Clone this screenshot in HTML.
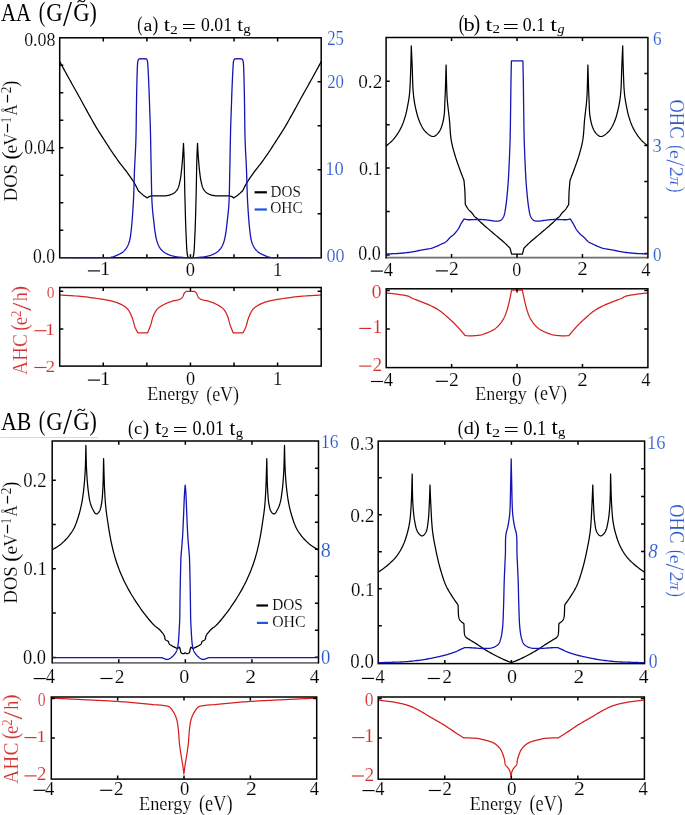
<!DOCTYPE html>
<html><head><meta charset="utf-8"><style>html,body{margin:0;padding:0;background:#fff;width:685px;height:815px;overflow:hidden}svg{display:block}svg{will-change:transform}</style></head><body>
<svg width="685" height="815" viewBox="0 0 685 815"><defs><clipPath id="clip_a_dos"><rect x="59.70" y="37.00" width="261.50" height="221.60"/></clipPath><clipPath id="clip_a_ahc"><rect x="59.70" y="286.70" width="261.50" height="80.20"/></clipPath><clipPath id="clip_b_dos"><rect x="386.10" y="36.70" width="261.80" height="221.80"/></clipPath><clipPath id="clip_b_ahc"><rect x="386.20" y="288.00" width="261.70" height="80.40"/></clipPath><clipPath id="clip_c_dos"><rect x="52.20" y="440.30" width="266.30" height="223.30"/></clipPath><clipPath id="clip_c_ahc"><rect x="51.30" y="696.20" width="265.40" height="83.70"/></clipPath><clipPath id="clip_d_dos"><rect x="378.20" y="440.30" width="266.40" height="224.10"/></clipPath><clipPath id="clip_d_ahc"><rect x="378.20" y="696.20" width="266.20" height="83.80"/></clipPath></defs><rect width="685" height="815" fill="#fff"/><path d="M59.80 61.50 L60.19 62.25 L60.56 62.97 L60.93 63.68 L61.31 64.39 L61.69 65.13 L62.09 65.90 L62.53 66.72 L63.00 67.60 L63.81 69.10 L64.72 70.76 L65.69 72.53 L66.72 74.38 L67.77 76.28 L68.83 78.19 L69.88 80.07 L70.90 81.90 L71.89 83.68 L72.88 85.44 L73.86 87.20 L74.85 88.96 L75.85 90.73 L76.85 92.52 L77.87 94.34 L78.90 96.20 L80.07 98.31 L81.26 100.49 L82.47 102.71 L83.69 104.95 L84.91 107.19 L86.13 109.41 L87.32 111.59 L88.50 113.70 L89.55 115.58 L90.58 117.43 L91.60 119.25 L92.61 121.05 L93.62 122.83 L94.63 124.60 L95.66 126.36 L96.70 128.10 L97.72 129.77 L98.76 131.43 L99.80 133.08 L100.85 134.71 L101.90 136.33 L102.95 137.93 L103.98 139.52 L105.00 141.10 L105.94 142.57 L106.87 144.02 L107.79 145.46 L108.71 146.89 L109.63 148.31 L110.55 149.72 L111.47 151.12 L112.40 152.50 L113.30 153.82 L114.21 155.13 L115.11 156.43 L116.02 157.72 L116.94 159.00 L117.85 160.28 L118.77 161.54 L119.70 162.80 L120.62 164.02 L121.55 165.23 L122.49 166.43 L123.43 167.62 L124.36 168.81 L125.29 170.00 L126.21 171.19 L127.10 172.40 L127.98 173.62 L128.87 174.87 L129.77 176.14 L130.65 177.41 L131.50 178.65 L132.30 179.84 L133.04 180.97 L133.70 182.00 L134.09 182.62 L134.44 183.21 L134.76 183.76 L135.06 184.29 L135.35 184.81 L135.64 185.33 L135.91 185.86 L136.20 186.40 L136.48 186.95 L136.75 187.49 L137.01 188.04 L137.27 188.59 L137.53 189.15 L137.78 189.70 L138.04 190.25 L138.30 190.80 L138.86 191.30 L139.42 191.82 L139.98 192.33 L140.54 192.84 L141.10 193.35 L141.66 193.85 L142.23 194.33 L142.80 194.80 L143.35 195.23 L143.91 195.64 L144.47 196.05 L145.04 196.44 L145.60 196.83 L146.17 197.21 L146.74 197.60 L147.30 198.00 L147.60 197.78 L147.90 197.55 L148.18 197.31 L148.47 197.08 L148.77 196.85 L149.09 196.64 L149.43 196.46 L149.80 196.30 L150.33 196.14 L150.90 196.03 L151.51 195.95 L152.15 195.90 L152.82 195.87 L153.52 195.85 L154.25 195.83 L155.00 195.80 L156.17 195.77 L157.47 195.78 L158.86 195.81 L160.30 195.85 L161.73 195.88 L163.10 195.90 L164.38 195.87 L165.50 195.80 L166.16 195.73 L166.77 195.65 L167.34 195.57 L167.88 195.47 L168.41 195.36 L168.93 195.23 L169.46 195.08 L170.00 194.90 L170.59 194.69 L171.20 194.46 L171.80 194.21 L172.40 193.94 L172.99 193.64 L173.56 193.32 L174.10 192.97 L174.60 192.60 L175.06 192.21 L175.50 191.80 L175.91 191.37 L176.31 190.92 L176.68 190.43 L177.04 189.92 L177.38 189.38 L177.70 188.80 L178.08 188.00 L178.43 187.13 L178.74 186.21 L179.03 185.24 L179.29 184.23 L179.53 183.20 L179.77 182.15 L180.00 181.10 L180.25 179.85 L180.47 178.56 L180.68 177.23 L180.86 175.87 L181.03 174.49 L181.19 173.10 L181.34 171.70 L181.50 170.30 L181.66 168.81 L181.82 167.31 L181.96 165.80 L182.10 164.27 L182.23 162.73 L182.36 161.17 L182.48 159.59 L182.60 158.00 L182.73 156.24 L182.85 154.44 L182.96 152.62 L183.07 150.78 L183.18 148.93 L183.28 147.08 L183.39 145.23 L183.50 143.40 L183.58 145.18 L183.65 146.89 L183.73 148.57 L183.81 150.27 L183.88 152.02 L183.96 153.86 L184.03 155.84 L184.10 158.00 L184.21 161.93 L184.31 166.32 L184.40 171.07 L184.49 176.06 L184.58 181.20 L184.68 186.37 L184.78 191.48 L184.90 196.40 L185.03 201.29 L185.16 206.29 L185.29 211.35 L185.43 216.38 L185.58 221.31 L185.74 226.07 L185.91 230.60 L186.10 234.80 L186.23 237.74 L186.36 240.69 L186.48 243.58 L186.61 246.35 L186.76 248.93 L186.93 251.24 L187.15 253.22 L187.40 254.80 L187.50 255.30 L187.59 255.76 L187.68 256.18 L187.78 256.56 L187.89 256.89 L188.03 257.18 L188.20 257.41 L188.40 257.60 L188.61 257.70 L188.84 257.75 L189.10 257.76 L189.38 257.73 L189.66 257.69 L189.95 257.65 L190.23 257.61 L190.50 257.60 L190.77 257.61 L191.05 257.65 L191.34 257.69 L191.62 257.73 L191.90 257.76 L192.16 257.75 L192.39 257.70 L192.60 257.60 L192.80 257.41 L192.97 257.18 L193.11 256.89 L193.22 256.56 L193.32 256.18 L193.41 255.76 L193.50 255.30 L193.60 254.80 L193.85 253.22 L194.07 251.24 L194.24 248.93 L194.39 246.35 L194.52 243.58 L194.64 240.69 L194.77 237.74 L194.90 234.80 L195.09 230.60 L195.26 226.07 L195.42 221.31 L195.57 216.38 L195.71 211.35 L195.84 206.29 L195.97 201.29 L196.10 196.40 L196.22 191.48 L196.32 186.37 L196.42 181.20 L196.51 176.06 L196.60 171.07 L196.69 166.32 L196.79 161.93 L196.90 158.00 L196.97 155.84 L197.04 153.86 L197.12 152.02 L197.19 150.27 L197.27 148.57 L197.35 146.89 L197.42 145.18 L197.50 143.40 L197.61 145.23 L197.72 147.08 L197.82 148.93 L197.93 150.78 L198.04 152.62 L198.15 154.44 L198.27 156.24 L198.40 158.00 L198.52 159.59 L198.64 161.17 L198.77 162.73 L198.90 164.27 L199.04 165.80 L199.18 167.31 L199.34 168.81 L199.50 170.30 L199.66 171.70 L199.81 173.10 L199.97 174.49 L200.14 175.87 L200.32 177.23 L200.53 178.56 L200.75 179.85 L201.00 181.10 L201.23 182.15 L201.47 183.20 L201.71 184.23 L201.97 185.24 L202.26 186.21 L202.57 187.13 L202.92 188.00 L203.30 188.80 L203.62 189.38 L203.96 189.92 L204.32 190.43 L204.69 190.92 L205.09 191.37 L205.50 191.80 L205.94 192.21 L206.40 192.60 L206.90 192.97 L207.44 193.32 L208.01 193.64 L208.60 193.94 L209.20 194.21 L209.80 194.46 L210.41 194.69 L211.00 194.90 L211.54 195.08 L212.07 195.23 L212.59 195.36 L213.12 195.47 L213.66 195.57 L214.23 195.65 L214.84 195.73 L215.50 195.80 L216.62 195.87 L217.90 195.90 L219.27 195.88 L220.70 195.85 L222.14 195.81 L223.53 195.78 L224.83 195.77 L226.00 195.80 L226.75 195.83 L227.48 195.85 L228.18 195.87 L228.85 195.90 L229.49 195.95 L230.10 196.03 L230.67 196.14 L231.20 196.30 L231.57 196.46 L231.91 196.64 L232.23 196.85 L232.53 197.08 L232.82 197.31 L233.10 197.55 L233.40 197.78 L233.70 198.00 L234.26 197.60 L234.83 197.21 L235.40 196.83 L235.96 196.44 L236.53 196.05 L237.09 195.64 L237.65 195.23 L238.20 194.80 L238.77 194.33 L239.34 193.85 L239.90 193.35 L240.46 192.84 L241.02 192.33 L241.58 191.82 L242.14 191.30 L242.70 190.80 L242.96 190.25 L243.22 189.70 L243.47 189.15 L243.73 188.59 L243.99 188.04 L244.25 187.49 L244.52 186.95 L244.80 186.40 L245.09 185.86 L245.36 185.33 L245.65 184.81 L245.94 184.29 L246.24 183.76 L246.56 183.21 L246.91 182.62 L247.30 182.00 L247.96 180.97 L248.70 179.84 L249.50 178.65 L250.35 177.41 L251.23 176.14 L252.13 174.87 L253.02 173.62 L253.90 172.40 L254.79 171.19 L255.71 170.00 L256.64 168.81 L257.57 167.62 L258.51 166.43 L259.45 165.23 L260.38 164.02 L261.30 162.80 L262.23 161.54 L263.15 160.28 L264.06 159.00 L264.98 157.72 L265.89 156.43 L266.79 155.13 L267.70 153.82 L268.60 152.50 L269.53 151.12 L270.45 149.72 L271.37 148.31 L272.29 146.89 L273.21 145.46 L274.13 144.02 L275.06 142.57 L276.00 141.10 L277.02 139.52 L278.05 137.93 L279.10 136.33 L280.15 134.71 L281.20 133.08 L282.24 131.43 L283.28 129.77 L284.30 128.10 L285.34 126.36 L286.37 124.60 L287.38 122.83 L288.39 121.05 L289.40 119.25 L290.42 117.43 L291.45 115.58 L292.50 113.70 L293.68 111.59 L294.87 109.41 L296.09 107.19 L297.31 104.95 L298.53 102.71 L299.74 100.49 L300.93 98.31 L302.10 96.20 L303.13 94.34 L304.15 92.52 L305.15 90.73 L306.15 88.96 L307.14 87.20 L308.12 85.44 L309.11 83.68 L310.10 81.90 L311.12 80.07 L312.17 78.19 L313.23 76.28 L314.28 74.38 L315.31 72.53 L316.28 70.76 L317.19 69.10 L318.00 67.60 L318.47 66.72 L318.91 65.90 L319.31 65.13 L319.69 64.39 L320.07 63.68 L320.44 62.97 L320.81 62.25 L321.20 61.50" fill="none" stroke="#000000" stroke-width="1.25" stroke-linejoin="round" clip-path="url(#clip_a_dos)"/>
<path d="M59.70 295.00 L62.02 295.14 L64.34 295.28 L66.66 295.40 L68.98 295.53 L71.31 295.67 L73.63 295.83 L75.96 296.00 L78.30 296.20 L80.70 296.43 L83.13 296.68 L85.58 296.94 L88.02 297.22 L90.45 297.52 L92.84 297.83 L95.20 298.16 L97.50 298.50 L99.55 298.81 L101.59 299.12 L103.62 299.44 L105.61 299.78 L107.56 300.13 L109.45 300.52 L111.27 300.94 L113.00 301.40 L114.35 301.80 L115.66 302.21 L116.93 302.64 L118.15 303.10 L119.34 303.57 L120.47 304.08 L121.56 304.62 L122.60 305.20 L123.45 305.72 L124.26 306.24 L125.03 306.79 L125.77 307.36 L126.48 307.96 L127.16 308.60 L127.79 309.28 L128.40 310.00 L129.00 310.84 L129.55 311.73 L130.06 312.68 L130.52 313.66 L130.96 314.67 L131.38 315.71 L131.79 316.75 L132.20 317.80 L132.62 318.96 L133.00 320.18 L133.35 321.44 L133.69 322.71 L134.02 323.96 L134.36 325.18 L134.71 326.33 L135.10 327.40 L135.42 328.16 L135.75 328.88 L136.08 329.56 L136.43 330.21 L136.77 330.85 L137.12 331.49 L137.46 332.14 L137.80 332.80 L147.60 332.80 L147.96 331.90 L148.33 331.00 L148.70 330.11 L149.07 329.22 L149.44 328.32 L149.80 327.41 L150.15 326.47 L150.50 325.50 L150.87 324.34 L151.22 323.13 L151.55 321.88 L151.87 320.61 L152.21 319.34 L152.57 318.11 L152.96 316.92 L153.40 315.80 L153.81 314.87 L154.21 313.96 L154.64 313.08 L155.08 312.22 L155.56 311.40 L156.08 310.60 L156.66 309.83 L157.30 309.10 L158.09 308.34 L158.97 307.61 L159.91 306.92 L160.91 306.27 L161.94 305.65 L162.97 305.07 L164.00 304.52 L165.00 304.00 L165.90 303.56 L166.81 303.15 L167.72 302.77 L168.63 302.43 L169.54 302.10 L170.46 301.79 L171.38 301.49 L172.30 301.20 L173.23 300.94 L174.20 300.72 L175.19 300.53 L176.17 300.34 L177.13 300.15 L178.03 299.94 L178.86 299.70 L179.60 299.40 L180.06 299.17 L180.48 298.94 L180.87 298.69 L181.24 298.43 L181.58 298.16 L181.90 297.87 L182.21 297.55 L182.50 297.20 L182.79 296.77 L183.03 296.27 L183.25 295.74 L183.44 295.19 L183.63 294.63 L183.83 294.11 L184.05 293.62 L184.30 293.20 L184.52 292.92 L184.74 292.67 L184.98 292.44 L185.22 292.23 L185.47 292.03 L185.71 291.82 L185.96 291.62 L186.20 291.40 L186.73 291.40 L187.25 291.40 L187.77 291.40 L188.30 291.40 L188.82 291.40 L189.35 291.40 L189.88 291.40 L190.40 291.40 L190.92 291.40 L191.45 291.40 L191.98 291.40 L192.50 291.40 L193.03 291.40 L193.55 291.40 L194.08 291.40 L194.60 291.40 L194.84 291.62 L195.09 291.82 L195.33 292.03 L195.58 292.23 L195.82 292.44 L196.06 292.67 L196.28 292.92 L196.50 293.20 L196.75 293.62 L196.97 294.11 L197.17 294.63 L197.36 295.19 L197.55 295.74 L197.77 296.27 L198.01 296.77 L198.30 297.20 L198.59 297.55 L198.90 297.87 L199.22 298.16 L199.56 298.43 L199.93 298.69 L200.32 298.94 L200.74 299.17 L201.20 299.40 L201.94 299.70 L202.77 299.94 L203.67 300.15 L204.63 300.34 L205.61 300.53 L206.60 300.72 L207.57 300.94 L208.50 301.20 L209.42 301.49 L210.34 301.79 L211.26 302.10 L212.17 302.43 L213.08 302.77 L213.99 303.15 L214.90 303.56 L215.80 304.00 L216.80 304.52 L217.83 305.07 L218.86 305.65 L219.89 306.27 L220.89 306.92 L221.83 307.61 L222.71 308.34 L223.50 309.10 L224.14 309.83 L224.72 310.60 L225.24 311.40 L225.72 312.22 L226.16 313.08 L226.59 313.96 L226.99 314.87 L227.40 315.80 L227.84 316.92 L228.23 318.11 L228.59 319.34 L228.93 320.61 L229.25 321.88 L229.58 323.13 L229.93 324.34 L230.30 325.50 L230.65 326.47 L231.00 327.41 L231.36 328.32 L231.73 329.22 L232.10 330.11 L232.47 331.00 L232.84 331.90 L233.20 332.80 L243.00 332.80 L243.34 332.14 L243.68 331.49 L244.03 330.85 L244.37 330.21 L244.72 329.56 L245.05 328.88 L245.38 328.16 L245.70 327.40 L246.09 326.33 L246.44 325.18 L246.78 323.96 L247.11 322.71 L247.45 321.44 L247.80 320.18 L248.18 318.96 L248.60 317.80 L249.01 316.75 L249.42 315.71 L249.84 314.67 L250.28 313.66 L250.74 312.68 L251.25 311.73 L251.80 310.84 L252.40 310.00 L253.01 309.28 L253.64 308.60 L254.32 307.96 L255.03 307.36 L255.77 306.79 L256.54 306.24 L257.35 305.72 L258.20 305.20 L259.24 304.62 L260.33 304.08 L261.46 303.57 L262.65 303.10 L263.87 302.64 L265.14 302.21 L266.45 301.80 L267.80 301.40 L269.53 300.94 L271.35 300.52 L273.24 300.13 L275.19 299.78 L277.18 299.44 L279.21 299.12 L281.25 298.81 L283.30 298.50 L285.60 298.16 L287.96 297.83 L290.35 297.52 L292.78 297.22 L295.22 296.94 L297.67 296.68 L300.10 296.43 L302.50 296.20 L304.84 296.00 L307.17 295.83 L309.49 295.67 L311.82 295.53 L314.14 295.40 L316.46 295.28 L318.78 295.14 L321.10 295.00" fill="none" stroke="#d42020" stroke-width="1.25" stroke-linejoin="round" clip-path="url(#clip_a_ahc)"/>
<path d="M386.10 146.00 L387.02 145.19 L387.95 144.41 L388.88 143.64 L389.81 142.87 L390.73 142.07 L391.64 141.24 L392.53 140.35 L393.40 139.40 L394.39 138.20 L395.38 136.93 L396.35 135.59 L397.30 134.19 L398.22 132.76 L399.10 131.31 L399.93 129.85 L400.70 128.40 L401.40 126.98 L402.05 125.55 L402.65 124.09 L403.22 122.63 L403.75 121.14 L404.25 119.64 L404.74 118.13 L405.20 116.60 L405.66 114.98 L406.08 113.31 L406.48 111.62 L406.84 109.92 L407.18 108.22 L407.51 106.54 L407.81 104.89 L408.10 103.30 L408.34 101.99 L408.56 100.75 L408.76 99.56 L408.95 98.38 L409.12 97.16 L409.29 95.89 L409.45 94.51 L409.60 93.00 L409.82 90.26 L410.02 87.17 L410.19 83.83 L410.33 80.32 L410.46 76.74 L410.58 73.19 L410.69 69.74 L410.80 66.50 L410.89 63.79 L410.96 61.15 L411.03 58.55 L411.08 55.99 L411.14 53.45 L411.19 50.92 L411.24 48.37 L411.30 45.80 L411.41 48.37 L411.52 50.92 L411.63 53.45 L411.75 55.99 L411.86 58.55 L411.97 61.15 L412.08 63.79 L412.20 66.50 L412.32 69.71 L412.42 73.08 L412.51 76.54 L412.61 80.04 L412.73 83.49 L412.88 86.85 L413.06 90.04 L413.30 93.00 L413.50 95.05 L413.72 96.99 L413.95 98.84 L414.20 100.64 L414.47 102.39 L414.77 104.14 L415.12 105.90 L415.50 107.70 L415.93 109.59 L416.38 111.51 L416.87 113.44 L417.39 115.36 L417.95 117.25 L418.56 119.08 L419.20 120.84 L419.90 122.50 L420.52 123.86 L421.17 125.18 L421.85 126.48 L422.56 127.72 L423.30 128.90 L424.09 130.02 L424.92 131.06 L425.80 132.00 L426.63 132.80 L427.53 133.61 L428.47 134.38 L429.44 135.09 L430.42 135.69 L431.38 136.15 L432.32 136.43 L433.20 136.50 L433.99 136.36 L434.77 136.05 L435.54 135.60 L436.29 135.02 L437.02 134.35 L437.72 133.61 L438.38 132.81 L439.00 132.00 L439.76 130.82 L440.46 129.48 L441.09 128.01 L441.67 126.44 L442.19 124.77 L442.67 123.05 L443.10 121.28 L443.50 119.50 L443.91 117.23 L444.21 114.86 L444.42 112.41 L444.57 109.87 L444.68 107.25 L444.77 104.54 L444.87 101.76 L445.00 98.90 L445.18 95.07 L445.34 91.02 L445.48 86.80 L445.61 82.48 L445.73 78.08 L445.85 73.67 L445.97 69.30 L446.10 65.00 L446.22 69.30 L446.33 73.67 L446.43 78.08 L446.53 82.48 L446.65 86.81 L446.79 91.02 L446.97 95.07 L447.20 98.90 L447.42 101.72 L447.68 104.41 L447.96 107.01 L448.25 109.53 L448.55 112.00 L448.85 114.47 L449.14 116.96 L449.40 119.50 L449.63 122.09 L449.82 124.71 L449.99 127.35 L450.16 129.98 L450.35 132.58 L450.58 135.13 L450.85 137.61 L451.20 140.00 L451.55 141.97 L451.94 143.88 L452.36 145.75 L452.81 147.57 L453.29 149.37 L453.78 151.15 L454.28 152.92 L454.80 154.70 L455.31 156.41 L455.85 158.10 L456.40 159.77 L456.97 161.43 L457.54 163.09 L458.13 164.73 L458.72 166.37 L459.30 168.00 L459.87 169.58 L460.45 171.16 L461.04 172.72 L461.63 174.28 L462.22 175.83 L462.82 177.39 L463.41 178.94 L464.00 180.50 L464.12 181.88 L464.24 183.26 L464.36 184.63 L464.48 186.00 L464.60 187.38 L464.71 188.77 L464.81 190.17 L464.90 191.60 L464.98 193.17 L465.04 194.76 L465.09 196.37 L465.14 197.99 L465.18 199.62 L465.21 201.25 L465.25 202.88 L465.30 204.50 L465.68 205.12 L466.06 205.75 L466.43 206.39 L466.81 207.02 L467.19 207.65 L467.57 208.26 L467.98 208.84 L468.40 209.40 L468.81 209.88 L469.25 210.34 L469.70 210.77 L470.16 211.20 L470.62 211.61 L471.06 212.03 L471.49 212.46 L471.90 212.90 L472.25 213.34 L472.59 213.79 L472.90 214.25 L473.21 214.71 L473.52 215.16 L473.83 215.60 L474.16 216.01 L474.50 216.40 L474.82 216.71 L475.15 217.00 L475.49 217.27 L475.84 217.52 L476.18 217.77 L476.52 218.03 L476.87 218.31 L477.20 218.60 L477.54 218.94 L477.86 219.27 L478.17 219.62 L478.48 219.97 L478.81 220.35 L479.16 220.74 L479.56 221.15 L480.00 221.60 L480.95 222.50 L482.04 223.50 L483.26 224.58 L484.57 225.73 L485.94 226.92 L487.36 228.15 L488.79 229.38 L490.20 230.60 L491.96 232.10 L493.86 233.71 L495.85 235.37 L497.86 237.04 L499.83 238.70 L501.71 240.28 L503.41 241.77 L504.90 243.10 L505.69 243.84 L506.41 244.54 L507.07 245.19 L507.68 245.82 L508.28 246.43 L508.87 247.05 L509.47 247.66 L510.10 248.30 L511.60 254.20 L512.28 254.20 L512.95 254.20 L513.62 254.20 L514.30 254.20 L514.98 254.20 L515.65 254.20 L516.33 254.20 L517.00 254.20 L517.68 254.20 L518.35 254.20 L519.03 254.20 L519.70 254.20 L520.38 254.20 L521.05 254.20 L521.73 254.20 L522.40 254.20 L523.90 248.30 L524.53 247.66 L525.13 247.05 L525.72 246.43 L526.32 245.82 L526.93 245.19 L527.59 244.54 L528.31 243.84 L529.10 243.10 L530.59 241.77 L532.29 240.28 L534.17 238.70 L536.14 237.04 L538.15 235.37 L540.14 233.71 L542.04 232.10 L543.80 230.60 L545.21 229.38 L546.64 228.15 L548.06 226.92 L549.43 225.73 L550.74 224.58 L551.96 223.50 L553.05 222.50 L554.00 221.60 L554.44 221.15 L554.84 220.74 L555.19 220.35 L555.52 219.97 L555.83 219.62 L556.14 219.27 L556.46 218.94 L556.80 218.60 L557.13 218.31 L557.48 218.03 L557.82 217.77 L558.16 217.52 L558.51 217.27 L558.85 217.00 L559.18 216.71 L559.50 216.40 L559.84 216.01 L560.17 215.60 L560.48 215.16 L560.79 214.71 L561.10 214.25 L561.41 213.79 L561.75 213.34 L562.10 212.90 L562.51 212.46 L562.94 212.03 L563.38 211.61 L563.84 211.20 L564.30 210.77 L564.75 210.34 L565.19 209.88 L565.60 209.40 L566.02 208.84 L566.43 208.26 L566.81 207.65 L567.19 207.02 L567.57 206.39 L567.94 205.75 L568.32 205.12 L568.70 204.50 L568.75 202.88 L568.79 201.25 L568.82 199.62 L568.86 197.99 L568.91 196.37 L568.96 194.76 L569.02 193.17 L569.10 191.60 L569.19 190.17 L569.29 188.77 L569.40 187.38 L569.52 186.00 L569.64 184.63 L569.76 183.26 L569.88 181.88 L570.00 180.50 L570.59 178.94 L571.18 177.39 L571.78 175.83 L572.37 174.28 L572.96 172.72 L573.55 171.16 L574.13 169.58 L574.70 168.00 L575.28 166.37 L575.87 164.73 L576.46 163.09 L577.03 161.43 L577.60 159.77 L578.15 158.10 L578.69 156.41 L579.20 154.70 L579.72 152.92 L580.22 151.15 L580.71 149.37 L581.19 147.57 L581.64 145.75 L582.06 143.88 L582.45 141.97 L582.80 140.00 L583.15 137.61 L583.42 135.13 L583.65 132.58 L583.84 129.98 L584.01 127.35 L584.18 124.71 L584.37 122.09 L584.60 119.50 L584.86 116.96 L585.15 114.47 L585.45 112.00 L585.75 109.53 L586.04 107.01 L586.32 104.41 L586.58 101.72 L586.80 98.90 L587.03 95.07 L587.21 91.02 L587.35 86.81 L587.47 82.48 L587.57 78.08 L587.67 73.67 L587.78 69.30 L587.90 65.00 L588.03 69.30 L588.15 73.67 L588.27 78.08 L588.39 82.48 L588.52 86.80 L588.66 91.02 L588.82 95.07 L589.00 98.90 L589.13 101.76 L589.23 104.54 L589.32 107.25 L589.43 109.87 L589.58 112.41 L589.79 114.86 L590.09 117.23 L590.50 119.50 L590.90 121.28 L591.33 123.05 L591.81 124.77 L592.33 126.44 L592.91 128.01 L593.54 129.48 L594.24 130.82 L595.00 132.00 L595.62 132.81 L596.28 133.61 L596.98 134.35 L597.71 135.02 L598.46 135.60 L599.23 136.05 L600.01 136.36 L600.80 136.50 L601.68 136.43 L602.62 136.15 L603.58 135.69 L604.56 135.09 L605.53 134.38 L606.47 133.61 L607.37 132.80 L608.20 132.00 L609.08 131.06 L609.91 130.02 L610.70 128.90 L611.44 127.72 L612.15 126.48 L612.83 125.18 L613.48 123.86 L614.10 122.50 L614.80 120.84 L615.44 119.08 L616.05 117.25 L616.61 115.36 L617.13 113.44 L617.62 111.51 L618.07 109.59 L618.50 107.70 L618.88 105.90 L619.23 104.14 L619.53 102.39 L619.80 100.64 L620.05 98.84 L620.28 96.99 L620.50 95.05 L620.70 93.00 L620.94 90.04 L621.12 86.85 L621.27 83.49 L621.39 80.04 L621.49 76.54 L621.58 73.08 L621.68 69.71 L621.80 66.50 L621.92 63.79 L622.03 61.15 L622.14 58.55 L622.25 55.99 L622.37 53.45 L622.48 50.92 L622.59 48.37 L622.70 45.80 L622.76 48.37 L622.81 50.92 L622.86 53.45 L622.92 55.99 L622.97 58.55 L623.04 61.15 L623.11 63.79 L623.20 66.50 L623.31 69.74 L623.42 73.19 L623.54 76.74 L623.67 80.32 L623.81 83.83 L623.98 87.17 L624.18 90.26 L624.40 93.00 L624.55 94.51 L624.71 95.89 L624.88 97.16 L625.05 98.38 L625.24 99.56 L625.44 100.75 L625.66 101.99 L625.90 103.30 L626.19 104.89 L626.49 106.54 L626.82 108.22 L627.16 109.92 L627.52 111.62 L627.92 113.31 L628.34 114.98 L628.80 116.60 L629.26 118.13 L629.75 119.64 L630.25 121.14 L630.78 122.63 L631.35 124.09 L631.95 125.55 L632.60 126.98 L633.30 128.40 L634.07 129.85 L634.90 131.31 L635.78 132.76 L636.70 134.19 L637.65 135.59 L638.62 136.93 L639.61 138.20 L640.60 139.40 L641.47 140.35 L642.36 141.24 L643.27 142.07 L644.19 142.87 L645.12 143.64 L646.05 144.41 L646.98 145.19 L647.90 146.00" fill="none" stroke="#000000" stroke-width="1.25" stroke-linejoin="round" clip-path="url(#clip_b_dos)"/>
<path d="M386.20 292.90 L387.72 293.08 L389.26 293.26 L390.80 293.44 L392.33 293.62 L393.86 293.80 L395.37 293.99 L396.85 294.19 L398.30 294.40 L399.60 294.59 L400.91 294.78 L402.21 294.97 L403.50 295.17 L404.74 295.38 L405.93 295.62 L407.06 295.89 L408.10 296.20 L408.80 296.45 L409.42 296.73 L410.00 297.02 L410.56 297.33 L411.12 297.64 L411.69 297.96 L412.31 298.28 L413.00 298.60 L414.06 299.04 L415.21 299.48 L416.42 299.93 L417.69 300.39 L418.98 300.85 L420.28 301.33 L421.56 301.81 L422.80 302.30 L424.04 302.81 L425.30 303.32 L426.55 303.85 L427.81 304.38 L429.05 304.92 L430.27 305.47 L431.45 306.03 L432.60 306.60 L433.59 307.11 L434.55 307.61 L435.49 308.12 L436.41 308.63 L437.32 309.16 L438.21 309.71 L439.11 310.29 L440.00 310.90 L440.94 311.58 L441.86 312.30 L442.78 313.05 L443.69 313.82 L444.59 314.60 L445.49 315.40 L446.40 316.20 L447.30 317.00 L448.24 317.82 L449.18 318.66 L450.13 319.50 L451.07 320.35 L452.00 321.21 L452.92 322.07 L453.82 322.93 L454.70 323.80 L455.51 324.63 L456.31 325.48 L457.10 326.33 L457.87 327.18 L458.63 328.03 L459.37 328.87 L460.09 329.70 L460.80 330.50 L461.40 331.18 L461.98 331.84 L462.54 332.49 L463.10 333.14 L463.65 333.78 L464.19 334.41 L464.74 335.05 L465.30 335.70 L466.26 335.72 L467.22 335.75 L468.18 335.78 L469.14 335.82 L470.10 335.84 L471.06 335.85 L472.03 335.84 L473.00 335.80 L474.01 335.74 L475.02 335.67 L476.04 335.58 L477.05 335.48 L478.07 335.35 L479.09 335.20 L480.10 335.02 L481.10 334.80 L482.12 334.54 L483.15 334.25 L484.17 333.93 L485.19 333.58 L486.20 333.21 L487.19 332.82 L488.16 332.42 L489.10 332.00 L489.96 331.61 L490.80 331.20 L491.64 330.78 L492.45 330.35 L493.25 329.90 L494.02 329.42 L494.78 328.92 L495.50 328.40 L496.17 327.87 L496.81 327.32 L497.44 326.75 L498.04 326.16 L498.63 325.55 L499.20 324.92 L499.75 324.27 L500.30 323.60 L500.87 322.86 L501.44 322.08 L501.98 321.28 L502.51 320.46 L503.03 319.62 L503.51 318.78 L503.97 317.94 L504.40 317.10 L504.77 316.32 L505.11 315.53 L505.43 314.74 L505.72 313.95 L506.00 313.15 L506.27 312.34 L506.53 311.52 L506.80 310.70 L507.08 309.83 L507.35 308.94 L507.61 308.04 L507.86 307.14 L508.10 306.23 L508.34 305.32 L508.57 304.41 L508.80 303.50 L509.02 302.59 L509.23 301.67 L509.44 300.74 L509.64 299.81 L509.84 298.89 L510.03 297.98 L510.22 297.08 L510.40 296.20 L510.56 295.42 L510.72 294.66 L510.87 293.91 L511.01 293.16 L511.16 292.42 L511.31 291.69 L511.45 290.95 L511.60 290.20 L512.28 290.20 L512.95 290.20 L513.62 290.20 L514.30 290.20 L514.98 290.20 L515.65 290.20 L516.33 290.20 L517.00 290.20 L517.68 290.20 L518.35 290.20 L519.03 290.20 L519.70 290.20 L520.38 290.20 L521.05 290.20 L521.73 290.20 L522.40 290.20 L522.55 290.95 L522.69 291.69 L522.84 292.42 L522.99 293.16 L523.13 293.91 L523.28 294.66 L523.44 295.42 L523.60 296.20 L523.78 297.08 L523.97 297.98 L524.16 298.89 L524.36 299.81 L524.56 300.74 L524.77 301.67 L524.98 302.59 L525.20 303.50 L525.43 304.41 L525.66 305.32 L525.90 306.23 L526.14 307.14 L526.39 308.04 L526.65 308.94 L526.92 309.83 L527.20 310.70 L527.47 311.52 L527.73 312.34 L528.00 313.15 L528.28 313.95 L528.57 314.74 L528.89 315.53 L529.23 316.32 L529.60 317.10 L530.03 317.94 L530.49 318.78 L530.97 319.62 L531.49 320.46 L532.02 321.28 L532.56 322.08 L533.13 322.86 L533.70 323.60 L534.25 324.27 L534.80 324.92 L535.37 325.55 L535.96 326.16 L536.56 326.75 L537.19 327.32 L537.83 327.87 L538.50 328.40 L539.22 328.92 L539.98 329.42 L540.75 329.90 L541.55 330.35 L542.36 330.78 L543.20 331.20 L544.04 331.61 L544.90 332.00 L545.84 332.42 L546.81 332.82 L547.80 333.21 L548.81 333.58 L549.83 333.93 L550.85 334.25 L551.88 334.54 L552.90 334.80 L553.90 335.02 L554.91 335.20 L555.93 335.35 L556.95 335.48 L557.96 335.58 L558.98 335.67 L559.99 335.74 L561.00 335.80 L561.97 335.84 L562.94 335.85 L563.90 335.84 L564.86 335.82 L565.82 335.78 L566.78 335.75 L567.74 335.72 L568.70 335.70 L569.26 335.05 L569.81 334.41 L570.35 333.78 L570.90 333.14 L571.46 332.49 L572.02 331.84 L572.60 331.18 L573.20 330.50 L573.91 329.70 L574.63 328.87 L575.37 328.03 L576.13 327.18 L576.90 326.33 L577.69 325.48 L578.49 324.63 L579.30 323.80 L580.18 322.93 L581.08 322.07 L582.00 321.21 L582.93 320.35 L583.87 319.50 L584.82 318.66 L585.76 317.82 L586.70 317.00 L587.60 316.20 L588.51 315.40 L589.41 314.60 L590.31 313.82 L591.22 313.05 L592.14 312.30 L593.06 311.58 L594.00 310.90 L594.89 310.29 L595.79 309.71 L596.68 309.16 L597.59 308.63 L598.51 308.12 L599.45 307.61 L600.41 307.11 L601.40 306.60 L602.55 306.03 L603.73 305.47 L604.95 304.92 L606.19 304.38 L607.45 303.85 L608.70 303.32 L609.96 302.81 L611.20 302.30 L612.44 301.81 L613.72 301.33 L615.02 300.85 L616.31 300.39 L617.58 299.93 L618.79 299.48 L619.94 299.04 L621.00 298.60 L621.69 298.28 L622.31 297.96 L622.88 297.64 L623.44 297.33 L624.00 297.02 L624.58 296.73 L625.20 296.45 L625.90 296.20 L626.94 295.89 L628.07 295.62 L629.26 295.38 L630.50 295.17 L631.79 294.97 L633.09 294.78 L634.40 294.59 L635.70 294.40 L637.15 294.19 L638.63 293.99 L640.14 293.80 L641.67 293.62 L643.20 293.44 L644.74 293.26 L646.28 293.08 L647.80 292.90" fill="none" stroke="#d42020" stroke-width="1.25" stroke-linejoin="round" clip-path="url(#clip_b_ahc)"/>
<path d="M52.20 550.00 L53.28 549.29 L54.38 548.59 L55.48 547.89 L56.58 547.20 L57.67 546.49 L58.74 545.76 L59.78 545.00 L60.80 544.20 L61.79 543.36 L62.77 542.49 L63.73 541.60 L64.67 540.68 L65.59 539.74 L66.49 538.78 L67.36 537.80 L68.20 536.80 L69.02 535.78 L69.83 534.74 L70.60 533.68 L71.36 532.61 L72.09 531.50 L72.79 530.37 L73.46 529.20 L74.10 528.00 L74.76 526.64 L75.38 525.22 L75.97 523.75 L76.52 522.26 L77.04 520.74 L77.55 519.22 L78.03 517.70 L78.50 516.20 L78.94 514.74 L79.37 513.30 L79.76 511.85 L80.14 510.40 L80.50 508.94 L80.85 507.46 L81.18 505.95 L81.50 504.40 L81.84 502.65 L82.15 500.87 L82.45 499.07 L82.73 497.23 L82.99 495.37 L83.24 493.48 L83.47 491.56 L83.70 489.60 L83.94 487.35 L84.17 485.06 L84.38 482.74 L84.57 480.37 L84.74 477.97 L84.91 475.52 L85.06 473.03 L85.20 470.50 L85.34 467.53 L85.45 464.47 L85.54 461.34 L85.62 458.17 L85.69 454.96 L85.75 451.76 L85.82 448.56 L85.90 445.40 L85.98 448.56 L86.05 451.76 L86.11 454.96 L86.18 458.17 L86.26 461.34 L86.35 464.47 L86.46 467.53 L86.60 470.50 L86.74 473.04 L86.89 475.54 L87.05 478.01 L87.22 480.44 L87.41 482.81 L87.62 485.13 L87.85 487.40 L88.10 489.60 L88.32 491.41 L88.54 493.20 L88.78 494.95 L89.03 496.67 L89.30 498.33 L89.59 499.93 L89.93 501.45 L90.30 502.90 L90.61 503.96 L90.95 504.99 L91.30 505.98 L91.67 506.94 L92.06 507.85 L92.46 508.71 L92.88 509.53 L93.30 510.30 L93.63 510.89 L93.98 511.50 L94.33 512.10 L94.69 512.67 L95.06 513.17 L95.43 513.58 L95.81 513.87 L96.20 514.00 L96.57 513.98 L96.95 513.85 L97.35 513.63 L97.75 513.33 L98.15 512.97 L98.53 512.56 L98.88 512.14 L99.20 511.70 L99.60 511.03 L99.94 510.27 L100.25 509.43 L100.51 508.52 L100.75 507.55 L100.98 506.53 L101.19 505.48 L101.40 504.40 L101.67 502.84 L101.90 501.20 L102.10 499.48 L102.27 497.67 L102.41 495.78 L102.54 493.81 L102.67 491.75 L102.80 489.60 L102.97 486.28 L103.10 482.67 L103.21 478.84 L103.29 474.86 L103.36 470.78 L103.43 466.69 L103.51 462.64 L103.60 458.70 L103.72 462.62 L103.83 466.63 L103.95 470.66 L104.06 474.69 L104.18 478.64 L104.30 482.48 L104.44 486.15 L104.60 489.60 L104.72 492.05 L104.85 494.39 L104.97 496.63 L105.11 498.81 L105.25 500.94 L105.41 503.05 L105.59 505.16 L105.80 507.30 L106.02 509.37 L106.27 511.42 L106.53 513.46 L106.81 515.49 L107.10 517.51 L107.40 519.51 L107.70 521.51 L108.00 523.50 L108.29 525.41 L108.58 527.31 L108.88 529.20 L109.18 531.08 L109.49 532.95 L109.82 534.81 L110.15 536.66 L110.50 538.50 L110.85 540.26 L111.21 542.02 L111.58 543.77 L111.96 545.50 L112.35 547.23 L112.75 548.93 L113.17 550.63 L113.60 552.30 L114.02 553.87 L114.45 555.41 L114.89 556.95 L115.34 558.46 L115.80 559.97 L116.28 561.48 L116.78 562.99 L117.30 564.50 L117.85 566.05 L118.42 567.59 L119.01 569.13 L119.61 570.67 L120.23 572.21 L120.87 573.74 L121.53 575.27 L122.20 576.80 L122.90 578.35 L123.62 579.90 L124.36 581.44 L125.11 582.98 L125.88 584.52 L126.67 586.05 L127.47 587.58 L128.30 589.10 L129.16 590.64 L130.04 592.18 L130.94 593.71 L131.86 595.23 L132.80 596.76 L133.75 598.27 L134.72 599.79 L135.70 601.30 L136.72 602.85 L137.75 604.41 L138.80 605.96 L139.86 607.51 L140.94 609.05 L142.04 610.58 L143.16 612.10 L144.30 613.60 L145.51 615.16 L146.78 616.76 L148.08 618.39 L149.40 619.99 L150.71 621.52 L151.97 622.96 L153.18 624.27 L154.30 625.40 L154.96 626.00 L155.59 626.52 L156.21 626.99 L156.81 627.41 L157.39 627.83 L157.97 628.25 L158.54 628.70 L159.10 629.20 L159.68 629.77 L160.24 630.38 L160.80 631.00 L161.34 631.63 L161.88 632.28 L162.41 632.93 L162.95 633.57 L163.50 634.20 L163.65 634.54 L163.82 634.88 L163.98 635.21 L164.14 635.55 L164.30 635.89 L164.45 636.23 L164.58 636.56 L164.70 636.90 L164.78 637.22 L164.82 637.54 L164.85 637.87 L164.87 638.19 L164.90 638.51 L164.96 638.82 L165.05 639.12 L165.20 639.40 L165.47 639.70 L165.83 639.98 L166.25 640.22 L166.71 640.46 L167.17 640.69 L167.61 640.93 L167.99 641.20 L168.30 641.50 L168.49 641.79 L168.63 642.10 L168.73 642.43 L168.82 642.77 L168.91 643.11 L169.00 643.43 L169.13 643.73 L169.30 644.00 L169.50 644.23 L169.73 644.44 L169.97 644.63 L170.23 644.80 L170.51 644.97 L170.79 645.14 L171.09 645.32 L171.40 645.50 L171.84 645.76 L172.33 646.04 L172.85 646.33 L173.39 646.61 L173.93 646.89 L174.45 647.15 L174.95 647.39 L175.40 647.60 L175.69 647.74 L175.97 647.89 L176.24 648.03 L176.50 648.16 L176.75 648.27 L177.00 648.36 L177.25 648.40 L177.50 648.40 L177.76 648.34 L178.01 648.23 L178.26 648.07 L178.51 647.88 L178.76 647.68 L179.00 647.48 L179.25 647.28 L179.50 647.10 L179.60 647.41 L179.70 647.72 L179.80 648.02 L179.90 648.33 L180.01 648.64 L180.11 648.95 L180.20 649.27 L180.30 649.60 L180.39 649.98 L180.46 650.40 L180.52 650.83 L180.58 651.26 L180.66 651.68 L180.76 652.06 L180.90 652.41 L181.10 652.70 L181.34 652.93 L181.62 653.13 L181.94 653.30 L182.28 653.45 L182.63 653.57 L182.98 653.65 L183.31 653.70 L183.60 653.70 L183.82 653.65 L184.03 653.54 L184.23 653.40 L184.43 653.24 L184.62 653.07 L184.81 652.94 L185.00 652.84 L185.20 652.80 L185.40 652.84 L185.59 652.94 L185.78 653.07 L185.97 653.24 L186.17 653.40 L186.37 653.54 L186.58 653.65 L186.80 653.70 L187.09 653.70 L187.42 653.65 L187.77 653.57 L188.12 653.45 L188.46 653.30 L188.78 653.13 L189.06 652.93 L189.30 652.70 L189.50 652.41 L189.64 652.06 L189.74 651.68 L189.82 651.26 L189.88 650.83 L189.94 650.40 L190.01 649.98 L190.10 649.60 L190.20 649.27 L190.29 648.95 L190.39 648.64 L190.50 648.33 L190.60 648.02 L190.70 647.72 L190.80 647.41 L190.90 647.10 L191.15 647.28 L191.40 647.48 L191.64 647.68 L191.89 647.88 L192.14 648.07 L192.39 648.23 L192.64 648.34 L192.90 648.40 L193.15 648.40 L193.40 648.36 L193.65 648.27 L193.90 648.16 L194.16 648.03 L194.43 647.89 L194.71 647.74 L195.00 647.60 L195.45 647.39 L195.95 647.15 L196.47 646.89 L197.01 646.61 L197.55 646.33 L198.07 646.04 L198.56 645.76 L199.00 645.50 L199.31 645.32 L199.61 645.14 L199.89 644.97 L200.17 644.80 L200.43 644.63 L200.67 644.44 L200.90 644.23 L201.10 644.00 L201.27 643.73 L201.40 643.43 L201.49 643.11 L201.58 642.77 L201.67 642.43 L201.77 642.10 L201.91 641.79 L202.10 641.50 L202.41 641.20 L202.79 640.93 L203.23 640.69 L203.69 640.46 L204.15 640.22 L204.57 639.98 L204.93 639.70 L205.20 639.40 L205.35 639.12 L205.44 638.82 L205.50 638.51 L205.53 638.19 L205.55 637.87 L205.58 637.54 L205.62 637.22 L205.70 636.90 L205.82 636.56 L205.95 636.23 L206.10 635.89 L206.26 635.55 L206.42 635.21 L206.58 634.88 L206.75 634.54 L206.90 634.20 L207.45 633.57 L207.99 632.93 L208.52 632.28 L209.06 631.63 L209.60 631.00 L210.16 630.38 L210.72 629.77 L211.30 629.20 L211.86 628.70 L212.43 628.25 L213.01 627.83 L213.59 627.41 L214.19 626.99 L214.81 626.52 L215.44 626.00 L216.10 625.40 L217.22 624.27 L218.43 622.96 L219.69 621.52 L221.00 619.99 L222.32 618.39 L223.62 616.76 L224.89 615.16 L226.10 613.60 L227.24 612.10 L228.36 610.58 L229.46 609.05 L230.54 607.51 L231.60 605.96 L232.65 604.41 L233.68 602.85 L234.70 601.30 L235.68 599.79 L236.65 598.27 L237.60 596.76 L238.54 595.23 L239.46 593.71 L240.36 592.18 L241.24 590.64 L242.10 589.10 L242.93 587.58 L243.73 586.05 L244.52 584.52 L245.29 582.98 L246.04 581.44 L246.78 579.90 L247.50 578.35 L248.20 576.80 L248.87 575.27 L249.53 573.74 L250.17 572.21 L250.79 570.67 L251.39 569.13 L251.98 567.59 L252.55 566.05 L253.10 564.50 L253.62 562.99 L254.12 561.48 L254.60 559.97 L255.06 558.46 L255.51 556.95 L255.95 555.41 L256.38 553.87 L256.80 552.30 L257.23 550.63 L257.65 548.93 L258.05 547.23 L258.44 545.50 L258.82 543.77 L259.19 542.02 L259.55 540.26 L259.90 538.50 L260.25 536.66 L260.58 534.81 L260.91 532.95 L261.22 531.08 L261.52 529.20 L261.82 527.31 L262.11 525.41 L262.40 523.50 L262.70 521.51 L263.00 519.51 L263.30 517.51 L263.59 515.49 L263.87 513.46 L264.13 511.42 L264.38 509.37 L264.60 507.30 L264.81 505.16 L264.99 503.05 L265.15 500.94 L265.29 498.81 L265.43 496.63 L265.55 494.39 L265.68 492.05 L265.80 489.60 L265.96 486.15 L266.10 482.48 L266.22 478.64 L266.34 474.69 L266.45 470.66 L266.57 466.63 L266.68 462.62 L266.80 458.70 L266.89 462.64 L266.97 466.69 L267.04 470.78 L267.11 474.86 L267.19 478.84 L267.30 482.67 L267.43 486.28 L267.60 489.60 L267.73 491.75 L267.86 493.81 L267.99 495.78 L268.13 497.67 L268.30 499.48 L268.50 501.20 L268.73 502.84 L269.00 504.40 L269.21 505.48 L269.42 506.53 L269.65 507.55 L269.89 508.52 L270.15 509.43 L270.46 510.27 L270.80 511.03 L271.20 511.70 L271.52 512.14 L271.87 512.56 L272.25 512.97 L272.65 513.33 L273.05 513.63 L273.45 513.85 L273.83 513.98 L274.20 514.00 L274.59 513.87 L274.97 513.58 L275.34 513.17 L275.71 512.67 L276.07 512.10 L276.42 511.50 L276.77 510.89 L277.10 510.30 L277.52 509.53 L277.94 508.71 L278.34 507.85 L278.73 506.94 L279.10 505.98 L279.45 504.99 L279.79 503.96 L280.10 502.90 L280.47 501.45 L280.81 499.93 L281.10 498.33 L281.37 496.67 L281.62 494.95 L281.86 493.20 L282.08 491.41 L282.30 489.60 L282.55 487.40 L282.78 485.13 L282.99 482.81 L283.18 480.44 L283.35 478.01 L283.51 475.54 L283.66 473.04 L283.80 470.50 L283.94 467.53 L284.05 464.47 L284.14 461.34 L284.22 458.17 L284.29 454.96 L284.35 451.76 L284.42 448.56 L284.50 445.40 L284.58 448.56 L284.65 451.76 L284.71 454.96 L284.78 458.17 L284.86 461.34 L284.95 464.47 L285.06 467.53 L285.20 470.50 L285.34 473.03 L285.49 475.52 L285.66 477.97 L285.83 480.37 L286.02 482.74 L286.23 485.06 L286.46 487.35 L286.70 489.60 L286.93 491.56 L287.16 493.48 L287.41 495.37 L287.67 497.23 L287.95 499.07 L288.25 500.87 L288.56 502.65 L288.90 504.40 L289.22 505.95 L289.55 507.46 L289.90 508.94 L290.26 510.40 L290.64 511.85 L291.03 513.30 L291.46 514.74 L291.90 516.20 L292.37 517.70 L292.85 519.22 L293.36 520.74 L293.88 522.26 L294.43 523.75 L295.02 525.22 L295.64 526.64 L296.30 528.00 L296.94 529.20 L297.61 530.37 L298.31 531.50 L299.04 532.61 L299.80 533.68 L300.57 534.74 L301.38 535.78 L302.20 536.80 L303.04 537.80 L303.91 538.78 L304.81 539.74 L305.73 540.68 L306.67 541.60 L307.63 542.49 L308.61 543.36 L309.60 544.20 L310.62 545.00 L311.66 545.76 L312.73 546.49 L313.82 547.20 L314.92 547.89 L316.02 548.59 L317.12 549.29 L318.20 550.00" fill="none" stroke="#000000" stroke-width="1.25" stroke-linejoin="round" clip-path="url(#clip_c_dos)"/>
<path d="M51.30 698.10 L53.81 698.23 L56.32 698.35 L58.83 698.48 L61.34 698.60 L63.85 698.73 L66.36 698.85 L68.88 698.98 L71.40 699.10 L73.95 699.23 L76.51 699.35 L79.07 699.48 L81.64 699.60 L84.21 699.73 L86.77 699.85 L89.34 699.97 L91.90 700.10 L94.45 700.22 L97.00 700.34 L99.55 700.45 L102.10 700.57 L104.65 700.69 L107.20 700.81 L109.75 700.95 L112.30 701.10 L114.85 701.26 L117.40 701.43 L119.95 701.60 L122.50 701.79 L125.05 701.98 L127.60 702.18 L130.15 702.39 L132.70 702.60 L135.30 702.83 L137.95 703.08 L140.63 703.34 L143.30 703.61 L145.92 703.87 L148.47 704.13 L150.91 704.38 L153.20 704.60 L154.87 704.75 L156.52 704.88 L158.12 704.99 L159.67 705.11 L161.15 705.23 L162.54 705.36 L163.83 705.51 L165.00 705.70 L165.65 705.81 L166.25 705.91 L166.81 706.00 L167.34 706.10 L167.84 706.23 L168.33 706.40 L168.82 706.62 L169.30 706.90 L169.89 707.34 L170.46 707.88 L171.01 708.48 L171.55 709.15 L172.07 709.86 L172.56 710.60 L173.04 711.35 L173.50 712.10 L173.98 712.93 L174.44 713.80 L174.88 714.69 L175.30 715.61 L175.69 716.55 L176.05 717.52 L176.39 718.50 L176.70 719.50 L177.00 720.61 L177.26 721.75 L177.47 722.91 L177.66 724.09 L177.83 725.30 L177.99 726.54 L178.14 727.80 L178.30 729.10 L178.48 730.72 L178.62 732.42 L178.75 734.17 L178.86 735.96 L178.98 737.76 L179.10 739.55 L179.24 741.30 L179.40 743.00 L179.57 744.52 L179.76 746.03 L179.95 747.52 L180.15 748.99 L180.36 750.44 L180.57 751.88 L180.79 753.30 L181.00 754.70 L181.20 755.95 L181.40 757.17 L181.60 758.37 L181.81 759.56 L182.02 760.74 L182.22 761.92 L182.41 763.10 L182.60 764.30 L182.78 765.51 L182.95 766.72 L183.11 767.93 L183.27 769.15 L183.43 770.36 L183.58 771.57 L183.74 772.79 L183.90 774.00 L184.06 772.79 L184.22 771.57 L184.37 770.36 L184.53 769.15 L184.69 767.93 L184.85 766.72 L185.02 765.51 L185.20 764.30 L185.39 763.10 L185.58 761.92 L185.78 760.74 L185.99 759.56 L186.20 758.37 L186.40 757.17 L186.60 755.95 L186.80 754.70 L187.01 753.30 L187.23 751.88 L187.44 750.44 L187.65 748.99 L187.85 747.52 L188.04 746.03 L188.23 744.52 L188.40 743.00 L188.56 741.30 L188.70 739.55 L188.82 737.76 L188.94 735.96 L189.05 734.17 L189.18 732.42 L189.32 730.72 L189.50 729.10 L189.66 727.80 L189.81 726.54 L189.97 725.30 L190.14 724.09 L190.33 722.91 L190.54 721.75 L190.80 720.61 L191.10 719.50 L191.41 718.50 L191.75 717.52 L192.11 716.55 L192.50 715.61 L192.92 714.69 L193.36 713.80 L193.82 712.93 L194.30 712.10 L194.76 711.35 L195.24 710.60 L195.73 709.86 L196.25 709.15 L196.79 708.48 L197.34 707.88 L197.91 707.34 L198.50 706.90 L198.98 706.62 L199.47 706.40 L199.96 706.23 L200.46 706.10 L200.99 706.00 L201.55 705.91 L202.15 705.81 L202.80 705.70 L203.97 705.51 L205.26 705.36 L206.65 705.23 L208.13 705.11 L209.68 704.99 L211.28 704.88 L212.93 704.75 L214.60 704.60 L216.89 704.38 L219.33 704.13 L221.88 703.87 L224.50 703.61 L227.17 703.34 L229.85 703.08 L232.50 702.83 L235.10 702.60 L237.65 702.39 L240.20 702.18 L242.75 701.98 L245.30 701.79 L247.85 701.60 L250.40 701.43 L252.95 701.26 L255.50 701.10 L258.05 700.95 L260.60 700.81 L263.15 700.69 L265.70 700.57 L268.25 700.45 L270.80 700.34 L273.35 700.22 L275.90 700.10 L278.46 699.97 L281.03 699.85 L283.59 699.73 L286.16 699.60 L288.73 699.48 L291.29 699.35 L293.85 699.23 L296.40 699.10 L298.92 698.98 L301.44 698.85 L303.95 698.73 L306.46 698.60 L308.97 698.48 L311.48 698.35 L313.99 698.23 L316.50 698.10" fill="none" stroke="#d42020" stroke-width="1.25" stroke-linejoin="round" clip-path="url(#clip_c_ahc)"/>
<path d="M378.20 572.30 L379.28 571.51 L380.36 570.74 L381.44 569.97 L382.52 569.20 L383.60 568.41 L384.67 567.61 L385.74 566.77 L386.80 565.90 L387.95 564.92 L389.10 563.92 L390.26 562.89 L391.41 561.83 L392.55 560.74 L393.64 559.62 L394.70 558.47 L395.70 557.30 L396.65 556.10 L397.56 554.86 L398.44 553.59 L399.28 552.29 L400.09 550.97 L400.86 549.63 L401.60 548.27 L402.30 546.90 L402.97 545.50 L403.59 544.09 L404.18 542.65 L404.73 541.19 L405.26 539.72 L405.76 538.22 L406.24 536.72 L406.70 535.20 L407.16 533.60 L407.60 532.00 L408.01 530.38 L408.40 528.75 L408.76 527.09 L409.10 525.40 L409.41 523.67 L409.70 521.90 L409.99 519.85 L410.23 517.77 L410.44 515.67 L410.62 513.51 L410.77 511.30 L410.92 509.02 L411.06 506.66 L411.20 504.20 L411.38 500.81 L411.53 497.22 L411.65 493.46 L411.77 489.60 L411.87 485.68 L411.98 481.74 L412.08 477.83 L412.20 474.00 L412.27 477.83 L412.33 481.74 L412.37 485.68 L412.42 489.61 L412.49 493.47 L412.58 497.22 L412.72 500.81 L412.90 504.20 L413.07 506.67 L413.24 509.08 L413.43 511.41 L413.64 513.66 L413.87 515.84 L414.14 517.94 L414.45 519.96 L414.80 521.90 L415.09 523.37 L415.37 524.83 L415.67 526.25 L416.00 527.62 L416.36 528.91 L416.77 530.12 L417.25 531.22 L417.80 532.20 L418.26 532.87 L418.78 533.54 L419.34 534.17 L419.92 534.74 L420.51 535.22 L421.09 535.60 L421.66 535.83 L422.20 535.90 L422.70 535.80 L423.20 535.54 L423.70 535.16 L424.19 534.68 L424.66 534.11 L425.11 533.50 L425.53 532.85 L425.90 532.20 L426.35 531.22 L426.73 530.11 L427.04 528.90 L427.29 527.60 L427.51 526.24 L427.71 524.82 L427.90 523.37 L428.10 521.90 L428.34 519.93 L428.54 517.84 L428.71 515.65 L428.85 513.40 L428.97 511.11 L429.08 508.79 L429.19 506.48 L429.30 504.20 L429.41 501.84 L429.51 499.46 L429.60 497.06 L429.68 494.65 L429.76 492.23 L429.84 489.82 L429.92 487.41 L430.00 485.00 L430.10 487.38 L430.19 489.73 L430.27 492.06 L430.36 494.41 L430.46 496.77 L430.56 499.18 L430.67 501.65 L430.80 504.20 L430.96 507.35 L431.12 510.65 L431.28 514.07 L431.47 517.53 L431.67 520.98 L431.91 524.36 L432.18 527.62 L432.50 530.70 L432.80 533.09 L433.12 535.37 L433.47 537.58 L433.84 539.75 L434.22 541.88 L434.63 544.02 L435.06 546.19 L435.50 548.40 L435.98 550.76 L436.47 553.15 L436.98 555.56 L437.51 557.97 L438.07 560.38 L438.65 562.78 L439.26 565.15 L439.90 567.50 L440.55 569.79 L441.23 572.11 L441.93 574.43 L442.65 576.73 L443.40 578.98 L444.18 581.16 L444.98 583.24 L445.80 585.20 L446.48 586.68 L447.19 588.08 L447.91 589.42 L448.64 590.71 L449.39 591.97 L450.15 593.22 L450.92 594.45 L451.70 595.70 L452.47 596.90 L453.25 598.08 L454.05 599.25 L454.86 600.40 L455.67 601.55 L456.48 602.69 L457.30 603.84 L458.10 605.00 L458.16 606.51 L458.20 608.09 L458.24 609.70 L458.28 611.29 L458.33 612.83 L458.41 614.27 L458.53 615.57 L458.70 616.70 L458.81 617.25 L458.91 617.74 L459.02 618.20 L459.14 618.62 L459.28 619.02 L459.45 619.41 L459.65 619.80 L459.90 620.20 L460.27 620.67 L460.70 621.13 L461.20 621.57 L461.73 622.00 L462.28 622.42 L462.83 622.84 L463.38 623.27 L463.90 623.70 L463.99 625.23 L464.06 626.84 L464.11 628.50 L464.16 630.14 L464.25 631.70 L464.37 633.13 L464.55 634.39 L464.80 635.40 L464.95 635.79 L465.13 636.13 L465.31 636.42 L465.51 636.69 L465.71 636.93 L465.91 637.18 L466.11 637.43 L466.30 637.70 L467.38 638.35 L468.45 639.00 L469.51 639.64 L470.58 640.28 L471.65 640.93 L472.74 641.60 L473.86 642.28 L475.00 643.00 L476.38 643.89 L477.80 644.82 L479.26 645.79 L480.73 646.77 L482.22 647.76 L483.72 648.74 L485.21 649.69 L486.70 650.60 L488.15 651.46 L489.62 652.31 L491.10 653.14 L492.57 653.96 L494.05 654.76 L495.51 655.53 L496.97 656.28 L498.40 657.00 L499.73 657.65 L501.10 658.31 L502.49 658.95 L503.86 659.57 L505.17 660.15 L506.41 660.68 L507.53 661.13 L508.50 661.50 L508.94 661.66 L509.34 661.81 L509.71 661.95 L510.05 662.07 L510.38 662.16 L510.71 662.24 L511.05 662.28 L511.40 662.30 L511.75 662.28 L512.09 662.24 L512.42 662.16 L512.75 662.07 L513.09 661.95 L513.46 661.81 L513.86 661.66 L514.30 661.50 L515.27 661.13 L516.39 660.68 L517.63 660.15 L518.94 659.57 L520.31 658.95 L521.70 658.31 L523.07 657.65 L524.40 657.00 L525.83 656.28 L527.29 655.53 L528.75 654.76 L530.23 653.96 L531.70 653.14 L533.18 652.31 L534.65 651.46 L536.10 650.60 L537.59 649.69 L539.08 648.74 L540.58 647.76 L542.07 646.77 L543.54 645.79 L545.00 644.82 L546.42 643.89 L547.80 643.00 L548.94 642.28 L550.06 641.60 L551.15 640.93 L552.22 640.28 L553.29 639.64 L554.35 639.00 L555.42 638.35 L556.50 637.70 L556.69 637.43 L556.89 637.18 L557.09 636.93 L557.29 636.69 L557.49 636.42 L557.67 636.13 L557.85 635.79 L558.00 635.40 L558.25 634.39 L558.43 633.13 L558.55 631.70 L558.64 630.14 L558.69 628.50 L558.74 626.84 L558.81 625.23 L558.90 623.70 L559.42 623.27 L559.97 622.84 L560.52 622.42 L561.07 622.00 L561.60 621.57 L562.10 621.13 L562.53 620.67 L562.90 620.20 L563.15 619.80 L563.35 619.41 L563.52 619.02 L563.66 618.62 L563.78 618.20 L563.89 617.74 L563.99 617.25 L564.10 616.70 L564.27 615.57 L564.39 614.27 L564.47 612.83 L564.52 611.29 L564.56 609.70 L564.60 608.09 L564.64 606.51 L564.70 605.00 L565.50 603.84 L566.32 602.69 L567.13 601.55 L567.94 600.40 L568.75 599.25 L569.55 598.08 L570.33 596.90 L571.10 595.70 L571.88 594.45 L572.65 593.22 L573.41 591.97 L574.16 590.71 L574.89 589.42 L575.61 588.08 L576.32 586.68 L577.00 585.20 L577.82 583.24 L578.62 581.16 L579.40 578.98 L580.15 576.73 L580.87 574.43 L581.57 572.11 L582.25 569.79 L582.90 567.50 L583.54 565.15 L584.15 562.78 L584.73 560.38 L585.29 557.97 L585.82 555.56 L586.33 553.15 L586.82 550.76 L587.30 548.40 L587.74 546.19 L588.17 544.02 L588.58 541.88 L588.96 539.75 L589.33 537.58 L589.68 535.37 L590.00 533.09 L590.30 530.70 L590.62 527.62 L590.89 524.36 L591.13 520.98 L591.33 517.53 L591.52 514.07 L591.68 510.65 L591.84 507.35 L592.00 504.20 L592.13 501.65 L592.24 499.18 L592.34 496.77 L592.44 494.41 L592.53 492.06 L592.61 489.73 L592.70 487.38 L592.80 485.00 L592.88 487.41 L592.96 489.82 L593.04 492.23 L593.12 494.65 L593.20 497.06 L593.29 499.46 L593.39 501.84 L593.50 504.20 L593.61 506.48 L593.72 508.79 L593.83 511.11 L593.95 513.40 L594.09 515.65 L594.26 517.84 L594.46 519.93 L594.70 521.90 L594.90 523.37 L595.09 524.82 L595.29 526.24 L595.51 527.60 L595.76 528.90 L596.07 530.11 L596.45 531.22 L596.90 532.20 L597.27 532.85 L597.69 533.50 L598.14 534.11 L598.61 534.68 L599.10 535.16 L599.60 535.54 L600.10 535.80 L600.60 535.90 L601.14 535.83 L601.71 535.60 L602.29 535.22 L602.88 534.74 L603.46 534.17 L604.02 533.54 L604.54 532.87 L605.00 532.20 L605.55 531.22 L606.03 530.12 L606.44 528.91 L606.80 527.62 L607.13 526.25 L607.43 524.83 L607.71 523.37 L608.00 521.90 L608.35 519.96 L608.66 517.94 L608.93 515.84 L609.16 513.66 L609.37 511.41 L609.56 509.08 L609.73 506.67 L609.90 504.20 L610.08 500.81 L610.22 497.22 L610.31 493.47 L610.38 489.61 L610.43 485.68 L610.47 481.74 L610.53 477.83 L610.60 474.00 L610.72 477.83 L610.82 481.74 L610.93 485.68 L611.03 489.60 L611.15 493.46 L611.27 497.22 L611.42 500.81 L611.60 504.20 L611.74 506.66 L611.88 509.02 L612.03 511.30 L612.18 513.51 L612.36 515.67 L612.57 517.77 L612.81 519.85 L613.10 521.90 L613.39 523.67 L613.70 525.40 L614.04 527.09 L614.40 528.75 L614.79 530.38 L615.20 532.00 L615.64 533.60 L616.10 535.20 L616.56 536.72 L617.04 538.22 L617.54 539.72 L618.07 541.19 L618.62 542.65 L619.21 544.09 L619.83 545.50 L620.50 546.90 L621.20 548.27 L621.94 549.63 L622.71 550.97 L623.52 552.29 L624.36 553.59 L625.24 554.86 L626.15 556.10 L627.10 557.30 L628.10 558.47 L629.16 559.62 L630.25 560.74 L631.39 561.83 L632.54 562.89 L633.70 563.92 L634.85 564.92 L636.00 565.90 L637.06 566.77 L638.13 567.61 L639.20 568.41 L640.28 569.20 L641.36 569.97 L642.44 570.74 L643.52 571.51 L644.60 572.30" fill="none" stroke="#000000" stroke-width="1.25" stroke-linejoin="round" clip-path="url(#clip_d_dos)"/>
<path d="M378.20 700.10 L380.23 700.35 L382.28 700.59 L384.33 700.82 L386.37 701.05 L388.41 701.30 L390.43 701.57 L392.43 701.86 L394.40 702.20 L396.26 702.54 L398.11 702.90 L399.96 703.28 L401.79 703.68 L403.59 704.11 L405.35 704.57 L407.05 705.06 L408.70 705.60 L410.07 706.10 L411.39 706.62 L412.65 707.17 L413.90 707.75 L415.12 708.35 L416.36 708.97 L417.61 709.62 L418.90 710.30 L420.39 711.10 L421.89 711.96 L423.41 712.86 L424.95 713.78 L426.48 714.72 L428.03 715.66 L429.57 716.59 L431.10 717.50 L432.64 718.39 L434.17 719.26 L435.72 720.13 L437.26 721.00 L438.80 721.87 L440.34 722.76 L441.87 723.67 L443.40 724.60 L444.97 725.59 L446.55 726.63 L448.14 727.69 L449.72 728.77 L451.28 729.83 L452.80 730.87 L454.28 731.87 L455.70 732.80 L456.79 733.50 L457.84 734.17 L458.85 734.81 L459.85 735.43 L460.83 736.05 L461.81 736.66 L462.80 737.27 L463.80 737.90 L465.35 737.94 L466.90 737.95 L468.47 737.96 L470.03 737.98 L471.58 738.01 L473.11 738.06 L474.62 738.16 L476.10 738.30 L477.46 738.49 L478.85 738.72 L480.23 738.98 L481.59 739.27 L482.90 739.57 L484.14 739.86 L485.28 740.14 L486.30 740.40 L486.85 740.54 L487.36 740.67 L487.83 740.80 L488.27 740.93 L488.69 741.06 L489.12 741.20 L489.55 741.34 L490.00 741.50 L490.49 741.67 L490.97 741.83 L491.46 742.00 L491.95 742.18 L492.44 742.38 L492.93 742.59 L493.41 742.83 L493.90 743.10 L494.49 743.47 L495.09 743.88 L495.70 744.32 L496.30 744.80 L496.89 745.29 L497.46 745.80 L498.00 746.30 L498.50 746.80 L498.90 747.23 L499.28 747.66 L499.64 748.09 L499.98 748.53 L500.31 748.98 L500.61 749.44 L500.91 749.91 L501.20 750.40 L501.49 750.93 L501.75 751.49 L502.00 752.06 L502.24 752.64 L502.46 753.23 L502.68 753.82 L502.89 754.42 L503.10 755.00 L503.30 755.57 L503.49 756.14 L503.68 756.70 L503.86 757.27 L504.03 757.85 L504.20 758.42 L504.35 759.01 L504.50 759.60 L504.63 760.25 L504.72 760.92 L504.79 761.61 L504.86 762.31 L504.93 762.99 L505.04 763.64 L505.19 764.25 L505.40 764.80 L505.62 765.20 L505.88 765.56 L506.18 765.90 L506.48 766.21 L506.80 766.52 L507.12 766.83 L507.42 767.15 L507.70 767.50 L507.97 767.87 L508.25 768.24 L508.51 768.62 L508.78 769.01 L509.03 769.40 L509.27 769.81 L509.49 770.24 L509.70 770.70 L509.92 771.29 L510.11 771.91 L510.28 772.57 L510.43 773.25 L510.57 773.94 L510.70 774.64 L510.85 775.33 L511.00 776.00 L511.15 775.33 L511.30 774.64 L511.43 773.94 L511.57 773.25 L511.72 772.57 L511.89 771.91 L512.08 771.29 L512.30 770.70 L512.51 770.24 L512.73 769.81 L512.97 769.40 L513.22 769.01 L513.49 768.62 L513.75 768.24 L514.03 767.87 L514.30 767.50 L514.58 767.15 L514.88 766.83 L515.20 766.52 L515.52 766.21 L515.82 765.90 L516.12 765.56 L516.38 765.20 L516.60 764.80 L516.81 764.25 L516.96 763.64 L517.07 762.99 L517.14 762.31 L517.21 761.61 L517.28 760.92 L517.37 760.25 L517.50 759.60 L517.65 759.01 L517.80 758.42 L517.97 757.85 L518.14 757.27 L518.32 756.70 L518.51 756.14 L518.70 755.57 L518.90 755.00 L519.11 754.42 L519.32 753.82 L519.54 753.23 L519.76 752.64 L520.00 752.06 L520.25 751.49 L520.51 750.93 L520.80 750.40 L521.09 749.91 L521.39 749.44 L521.69 748.98 L522.02 748.53 L522.36 748.09 L522.72 747.66 L523.10 747.23 L523.50 746.80 L524.00 746.30 L524.54 745.80 L525.11 745.29 L525.70 744.80 L526.30 744.32 L526.91 743.88 L527.51 743.47 L528.10 743.10 L528.59 742.83 L529.07 742.59 L529.56 742.38 L530.05 742.18 L530.54 742.00 L531.03 741.83 L531.51 741.67 L532.00 741.50 L532.45 741.34 L532.88 741.20 L533.31 741.06 L533.73 740.93 L534.17 740.80 L534.64 740.67 L535.15 740.54 L535.70 740.40 L536.72 740.14 L537.86 739.86 L539.10 739.57 L540.41 739.27 L541.77 738.98 L543.15 738.72 L544.54 738.49 L545.90 738.30 L547.38 738.16 L548.89 738.06 L550.42 738.01 L551.97 737.98 L553.53 737.96 L555.10 737.95 L556.65 737.94 L558.20 737.90 L559.20 737.27 L560.19 736.66 L561.17 736.05 L562.15 735.43 L563.15 734.81 L564.16 734.17 L565.21 733.50 L566.30 732.80 L567.72 731.87 L569.20 730.87 L570.72 729.83 L572.28 728.77 L573.86 727.69 L575.45 726.63 L577.03 725.59 L578.60 724.60 L580.13 723.67 L581.66 722.76 L583.20 721.87 L584.74 721.00 L586.28 720.13 L587.83 719.26 L589.36 718.39 L590.90 717.50 L592.43 716.59 L593.97 715.66 L595.52 714.72 L597.05 713.78 L598.59 712.86 L600.11 711.96 L601.61 711.10 L603.10 710.30 L604.39 709.62 L605.64 708.97 L606.88 708.35 L608.10 707.75 L609.35 707.17 L610.61 706.62 L611.93 706.10 L613.30 705.60 L614.95 705.06 L616.65 704.57 L618.41 704.11 L620.21 703.68 L622.04 703.28 L623.89 702.90 L625.74 702.54 L627.60 702.20 L629.57 701.86 L631.57 701.57 L633.59 701.30 L635.63 701.05 L637.67 700.82 L639.72 700.59 L641.77 700.35 L643.80 700.10" fill="none" stroke="#d42020" stroke-width="1.25" stroke-linejoin="round" clip-path="url(#clip_d_ahc)"/>
<rect x="59.70" y="37.80" width="261.50" height="220.00" fill="none" stroke="#000" stroke-width="1.50"/>
<path d="M103.28 37.80V41.40M103.28 257.80V254.20M146.87 37.80V41.40M146.87 257.80V254.20M190.45 37.80V41.40M190.45 257.80V254.20M234.03 37.80V41.40M234.03 257.80V254.20M277.62 37.80V41.40M277.62 257.80V254.20M59.70 230.30H63.30M59.70 202.80H63.30M59.70 175.30H63.30M59.70 147.80H63.30M59.70 120.30H63.30M59.70 92.80H63.30M59.70 65.30H63.30M321.20 213.80H317.60M321.20 169.80H317.60M321.20 125.80H317.60M321.20 81.80H317.60" stroke="#000" stroke-width="1.50" fill="none"/>
<rect x="59.70" y="287.50" width="261.50" height="78.60" fill="none" stroke="#000" stroke-width="1.50"/>
<path d="M103.28 287.50V291.10M103.28 366.10V362.50M146.87 287.50V291.10M146.87 366.10V362.50M190.45 287.50V291.10M190.45 366.10V362.50M234.03 287.50V291.10M234.03 366.10V362.50M277.62 287.50V291.10M277.62 366.10V362.50M59.70 291.30H63.30M59.70 329.00H63.30M321.20 291.30H317.60M321.20 329.00H317.60" stroke="#000" stroke-width="1.50" fill="none"/>
<path d="M386.10 257.70H647.90" stroke="#6f6f6f" stroke-width="1.80"/>
<path d="M386.10 257.70V37.50H647.90V257.70" fill="none" stroke="#000" stroke-width="1.50" stroke-linecap="square"/>
<path d="M451.55 37.50V41.10M451.55 257.70V254.10M517.00 37.50V41.10M517.00 257.70V254.10M582.45 37.50V41.10M582.45 257.70V254.10M386.10 211.50H389.70M386.10 168.10H389.70M386.10 124.70H389.70M386.10 81.30H389.70M386.10 254.90H389.70M647.90 217.40H644.30M647.90 181.40H644.30M647.90 145.40H644.30M647.90 109.40H644.30M647.90 73.40H644.30M647.90 253.40H644.30" stroke="#000" stroke-width="1.50" fill="none"/>
<rect x="386.20" y="288.80" width="261.70" height="78.80" fill="none" stroke="#000" stroke-width="1.50"/>
<path d="M451.62 288.80V292.40M451.62 367.60V364.00M517.05 288.80V292.40M517.05 367.60V364.00M582.47 288.80V292.40M582.47 367.60V364.00M386.20 290.60H389.80M386.20 329.00H389.80M647.90 290.60H644.30M647.90 329.00H644.30" stroke="#000" stroke-width="1.50" fill="none"/>
<path d="M52.20 662.80H318.50" stroke="#6f6f6f" stroke-width="1.80"/>
<path d="M52.20 662.80V441.10H318.50V662.80" fill="none" stroke="#000" stroke-width="1.50" stroke-linecap="square"/>
<path d="M118.78 441.10V444.70M118.78 662.80V659.20M185.35 441.10V444.70M185.35 662.80V659.20M251.93 441.10V444.70M251.93 662.80V659.20M52.20 613.10H55.80M52.20 568.80H55.80M52.20 524.50H55.80M52.20 480.20H55.80M52.20 657.40H55.80M318.50 630.30H314.90M318.50 603.30H314.90M318.50 576.30H314.90M318.50 549.30H314.90M318.50 522.30H314.90M318.50 495.30H314.90M318.50 468.30H314.90M318.50 657.30H314.90" stroke="#000" stroke-width="1.50" fill="none"/>
<rect x="51.30" y="697.00" width="265.40" height="82.10" fill="none" stroke="#000" stroke-width="1.50"/>
<path d="M117.65 697.00V700.60M117.65 779.10V775.50M184.00 697.00V700.60M184.00 779.10V775.50M250.35 697.00V700.60M250.35 779.10V775.50M51.30 698.60H54.90M51.30 737.90H54.90M316.70 698.60H313.10M316.70 737.90H313.10" stroke="#000" stroke-width="1.50" fill="none"/>
<rect x="378.20" y="441.10" width="266.40" height="222.50" fill="none" stroke="#000" stroke-width="1.50"/>
<path d="M444.80 441.10V444.70M444.80 663.60V660.00M511.40 441.10V444.70M511.40 663.60V660.00M578.00 441.10V444.70M578.00 663.60V660.00M378.20 625.80H381.80M378.20 588.80H381.80M378.20 551.80H381.80M378.20 514.80H381.80M378.20 477.80H381.80M644.60 634.40H641.00M644.60 606.80H641.00M644.60 579.20H641.00M644.60 551.60H641.00M644.60 524.00H641.00M644.60 496.40H641.00M644.60 468.80H641.00" stroke="#000" stroke-width="1.50" fill="none"/>
<rect x="378.20" y="697.00" width="266.20" height="82.20" fill="none" stroke="#000" stroke-width="1.50"/>
<path d="M444.75 697.00V700.60M444.75 779.20V775.60M511.30 697.00V700.60M511.30 779.20V775.60M577.85 697.00V700.60M577.85 779.20V775.60M378.20 698.60H381.80M378.20 737.90H381.80M644.40 698.60H640.80M644.40 737.90H640.80" stroke="#000" stroke-width="1.50" fill="none"/>
<path d="M59.70 257.70 L64.92 257.71 L70.39 257.72 L75.96 257.73 L81.48 257.75 L86.80 257.76 L91.76 257.75 L96.21 257.74 L100.00 257.70 L101.66 257.69 L103.17 257.70 L104.55 257.72 L105.84 257.73 L107.05 257.72 L108.22 257.67 L109.36 257.57 L110.50 257.40 L111.41 257.22 L112.29 257.00 L113.13 256.75 L113.95 256.48 L114.75 256.19 L115.53 255.87 L116.32 255.54 L117.10 255.20 L117.88 254.85 L118.66 254.49 L119.44 254.12 L120.20 253.72 L120.95 253.31 L121.67 252.86 L122.35 252.40 L123.00 251.90 L123.57 251.40 L124.12 250.88 L124.64 250.34 L125.14 249.78 L125.61 249.19 L126.06 248.58 L126.49 247.95 L126.90 247.30 L127.32 246.56 L127.72 245.79 L128.09 244.98 L128.44 244.15 L128.76 243.31 L129.06 242.44 L129.34 241.57 L129.60 240.70 L129.84 239.78 L130.04 238.86 L130.21 237.93 L130.37 236.98 L130.50 236.02 L130.63 235.02 L130.76 233.98 L130.90 232.90 L131.09 231.42 L131.26 229.85 L131.44 228.20 L131.60 226.52 L131.76 224.80 L131.91 223.08 L132.06 221.37 L132.20 219.70 L132.33 218.06 L132.46 216.40 L132.58 214.75 L132.69 213.10 L132.80 211.45 L132.90 209.82 L133.00 208.20 L133.10 206.60 L133.19 205.15 L133.27 203.75 L133.34 202.39 L133.42 201.03 L133.49 199.64 L133.56 198.19 L133.63 196.66 L133.70 195.00 L133.80 192.34 L133.90 189.47 L133.99 186.42 L134.08 183.23 L134.17 179.96 L134.27 176.63 L134.38 173.30 L134.50 170.00 L134.65 166.38 L134.83 162.70 L135.02 158.97 L135.22 155.20 L135.42 151.41 L135.60 147.60 L135.76 143.80 L135.90 140.00 L136.01 136.10 L136.09 132.14 L136.16 128.15 L136.21 124.15 L136.26 120.20 L136.30 116.32 L136.35 112.54 L136.40 108.90 L136.45 105.96 L136.49 103.11 L136.54 100.34 L136.58 97.61 L136.63 94.92 L136.68 92.24 L136.74 89.54 L136.80 86.80 L136.87 83.91 L136.94 80.84 L137.02 77.70 L137.11 74.59 L137.20 71.63 L137.29 68.92 L137.39 66.57 L137.50 64.70 L137.54 64.08 L137.57 63.52 L137.60 63.02 L137.63 62.57 L137.67 62.15 L137.73 61.76 L137.80 61.38 L137.90 61.00 L137.99 60.72 L138.07 60.44 L138.16 60.17 L138.26 59.91 L138.38 59.67 L138.53 59.46 L138.70 59.26 L138.90 59.10 L139.23 58.94 L139.63 58.84 L140.09 58.78 L140.58 58.76 L141.09 58.76 L141.61 58.77 L142.12 58.79 L142.60 58.80 L143.09 58.79 L143.61 58.77 L144.15 58.76 L144.67 58.75 L145.18 58.77 L145.65 58.83 L146.06 58.94 L146.40 59.10 L146.61 59.26 L146.78 59.46 L146.92 59.67 L147.04 59.91 L147.14 60.17 L147.23 60.44 L147.31 60.72 L147.40 61.00 L147.50 61.38 L147.57 61.76 L147.62 62.15 L147.66 62.57 L147.69 63.02 L147.72 63.52 L147.76 64.08 L147.80 64.70 L147.93 66.57 L148.07 68.92 L148.21 71.63 L148.36 74.59 L148.50 77.70 L148.64 80.84 L148.78 83.91 L148.90 86.80 L149.01 89.57 L149.12 92.34 L149.23 95.11 L149.32 97.88 L149.42 100.65 L149.51 103.41 L149.61 106.16 L149.70 108.90 L149.79 111.52 L149.88 114.05 L149.97 116.55 L150.06 119.06 L150.15 121.62 L150.23 124.27 L150.32 127.05 L150.40 130.00 L150.51 134.43 L150.61 139.24 L150.71 144.32 L150.81 149.57 L150.91 154.86 L151.00 160.11 L151.10 165.19 L151.20 170.00 L151.28 174.06 L151.36 178.16 L151.44 182.24 L151.51 186.23 L151.59 190.07 L151.68 193.68 L151.78 197.02 L151.90 200.00 L151.97 201.57 L152.05 202.99 L152.12 204.31 L152.20 205.55 L152.29 206.76 L152.38 207.96 L152.49 209.20 L152.60 210.50 L152.73 211.95 L152.88 213.42 L153.04 214.90 L153.21 216.40 L153.38 217.89 L153.56 219.38 L153.73 220.85 L153.90 222.30 L154.05 223.66 L154.20 225.01 L154.34 226.36 L154.49 227.69 L154.65 229.02 L154.81 230.33 L155.00 231.62 L155.20 232.90 L155.40 234.09 L155.61 235.27 L155.82 236.45 L156.05 237.61 L156.29 238.75 L156.56 239.87 L156.86 240.95 L157.20 242.00 L157.52 242.90 L157.85 243.79 L158.20 244.66 L158.58 245.51 L158.98 246.33 L159.41 247.12 L159.88 247.88 L160.40 248.60 L160.95 249.27 L161.53 249.92 L162.15 250.54 L162.80 251.13 L163.49 251.69 L164.20 252.22 L164.94 252.72 L165.70 253.20 L166.57 253.69 L167.49 254.14 L168.44 254.55 L169.43 254.94 L170.44 255.29 L171.48 255.62 L172.53 255.92 L173.60 256.20 L174.85 256.48 L176.16 256.73 L177.52 256.94 L178.90 257.12 L180.27 257.27 L181.61 257.40 L182.90 257.51 L184.10 257.60 L184.97 257.66 L185.81 257.69 L186.61 257.71 L187.40 257.72 L188.17 257.72 L188.94 257.71 L189.71 257.70 L190.50 257.70 L191.29 257.70 L192.06 257.71 L192.83 257.72 L193.60 257.72 L194.39 257.71 L195.19 257.69 L196.03 257.66 L196.90 257.60 L198.10 257.51 L199.39 257.40 L200.73 257.27 L202.10 257.12 L203.48 256.94 L204.84 256.73 L206.15 256.48 L207.40 256.20 L208.47 255.92 L209.52 255.62 L210.56 255.29 L211.57 254.94 L212.56 254.55 L213.51 254.14 L214.43 253.69 L215.30 253.20 L216.06 252.72 L216.80 252.22 L217.51 251.69 L218.20 251.13 L218.85 250.54 L219.47 249.92 L220.05 249.27 L220.60 248.60 L221.12 247.88 L221.59 247.12 L222.02 246.33 L222.42 245.51 L222.80 244.66 L223.15 243.79 L223.48 242.90 L223.80 242.00 L224.14 240.95 L224.44 239.87 L224.71 238.75 L224.95 237.61 L225.18 236.45 L225.39 235.27 L225.60 234.09 L225.80 232.90 L226.00 231.62 L226.19 230.33 L226.35 229.02 L226.51 227.69 L226.66 226.36 L226.80 225.01 L226.95 223.66 L227.10 222.30 L227.27 220.85 L227.44 219.38 L227.62 217.89 L227.79 216.40 L227.96 214.90 L228.12 213.42 L228.27 211.95 L228.40 210.50 L228.51 209.20 L228.62 207.96 L228.71 206.76 L228.80 205.55 L228.88 204.31 L228.95 202.99 L229.03 201.57 L229.10 200.00 L229.22 197.02 L229.32 193.68 L229.41 190.07 L229.49 186.23 L229.56 182.24 L229.64 178.16 L229.72 174.06 L229.80 170.00 L229.90 165.19 L230.00 160.11 L230.09 154.86 L230.19 149.57 L230.29 144.32 L230.39 139.24 L230.49 134.43 L230.60 130.00 L230.68 127.05 L230.77 124.27 L230.85 121.62 L230.94 119.06 L231.03 116.55 L231.12 114.05 L231.21 111.52 L231.30 108.90 L231.39 106.16 L231.49 103.41 L231.58 100.65 L231.68 97.88 L231.77 95.11 L231.88 92.34 L231.99 89.57 L232.10 86.80 L232.22 83.91 L232.36 80.84 L232.50 77.70 L232.64 74.59 L232.79 71.63 L232.93 68.92 L233.07 66.57 L233.20 64.70 L233.24 64.08 L233.28 63.52 L233.31 63.02 L233.34 62.57 L233.38 62.15 L233.43 61.76 L233.50 61.38 L233.60 61.00 L233.69 60.72 L233.77 60.44 L233.86 60.17 L233.96 59.91 L234.08 59.67 L234.22 59.46 L234.39 59.26 L234.60 59.10 L234.94 58.94 L235.35 58.83 L235.82 58.77 L236.33 58.75 L236.85 58.76 L237.39 58.77 L237.91 58.79 L238.40 58.80 L238.88 58.79 L239.39 58.77 L239.91 58.76 L240.42 58.76 L240.91 58.78 L241.37 58.84 L241.77 58.94 L242.10 59.10 L242.30 59.26 L242.47 59.46 L242.62 59.67 L242.74 59.91 L242.84 60.17 L242.93 60.44 L243.01 60.72 L243.10 61.00 L243.20 61.38 L243.27 61.76 L243.33 62.15 L243.37 62.57 L243.40 63.02 L243.43 63.52 L243.46 64.08 L243.50 64.70 L243.61 66.57 L243.71 68.92 L243.80 71.63 L243.89 74.59 L243.98 77.70 L244.06 80.84 L244.13 83.91 L244.20 86.80 L244.26 89.54 L244.32 92.24 L244.37 94.92 L244.42 97.61 L244.46 100.34 L244.51 103.11 L244.55 105.96 L244.60 108.90 L244.65 112.54 L244.70 116.32 L244.74 120.20 L244.79 124.15 L244.84 128.15 L244.91 132.14 L244.99 136.10 L245.10 140.00 L245.24 143.80 L245.40 147.60 L245.58 151.41 L245.78 155.20 L245.98 158.97 L246.17 162.70 L246.35 166.38 L246.50 170.00 L246.62 173.30 L246.73 176.63 L246.83 179.96 L246.92 183.23 L247.01 186.42 L247.10 189.47 L247.20 192.34 L247.30 195.00 L247.37 196.66 L247.44 198.19 L247.51 199.64 L247.58 201.03 L247.66 202.39 L247.73 203.75 L247.81 205.15 L247.90 206.60 L248.00 208.20 L248.10 209.82 L248.20 211.45 L248.31 213.10 L248.42 214.75 L248.54 216.40 L248.67 218.06 L248.80 219.70 L248.94 221.37 L249.09 223.08 L249.24 224.80 L249.40 226.52 L249.56 228.20 L249.74 229.85 L249.91 231.42 L250.10 232.90 L250.24 233.98 L250.37 235.02 L250.50 236.02 L250.63 236.98 L250.79 237.93 L250.96 238.86 L251.16 239.78 L251.40 240.70 L251.66 241.57 L251.94 242.44 L252.24 243.31 L252.56 244.15 L252.91 244.98 L253.28 245.79 L253.68 246.56 L254.10 247.30 L254.51 247.95 L254.94 248.58 L255.39 249.19 L255.86 249.78 L256.36 250.34 L256.88 250.88 L257.43 251.40 L258.00 251.90 L258.65 252.40 L259.33 252.86 L260.05 253.31 L260.80 253.72 L261.56 254.12 L262.34 254.49 L263.12 254.85 L263.90 255.20 L264.68 255.54 L265.47 255.87 L266.25 256.19 L267.05 256.48 L267.87 256.75 L268.71 257.00 L269.59 257.22 L270.50 257.40 L271.64 257.57 L272.78 257.67 L273.95 257.72 L275.16 257.73 L276.45 257.72 L277.83 257.70 L279.34 257.69 L281.00 257.70 L284.79 257.74 L289.24 257.75 L294.20 257.76 L299.52 257.75 L305.04 257.73 L310.61 257.72 L316.08 257.71 L321.30 257.70" fill="none" stroke="#1414b4" stroke-width="1.3" stroke-linejoin="round" clip-path="url(#clip_a_dos)"/>
<path d="M386.10 253.95 L387.55 253.90 L389.00 253.85 L390.45 253.81 L391.90 253.77 L393.35 253.72 L394.80 253.66 L396.25 253.59 L397.70 253.50 L399.16 253.39 L400.63 253.27 L402.09 253.14 L403.56 253.00 L405.02 252.85 L406.48 252.68 L407.94 252.50 L409.40 252.30 L410.86 252.08 L412.31 251.84 L413.76 251.59 L415.21 251.32 L416.65 251.04 L418.10 250.76 L419.55 250.48 L421.00 250.20 L422.47 249.94 L423.96 249.69 L425.46 249.45 L426.95 249.20 L428.43 248.93 L429.89 248.64 L431.32 248.30 L432.70 247.90 L433.96 247.47 L435.22 246.98 L436.47 246.45 L437.69 245.90 L438.87 245.34 L439.99 244.79 L441.04 244.27 L442.00 243.80 L442.59 243.52 L443.13 243.27 L443.64 243.04 L444.13 242.81 L444.60 242.58 L445.06 242.32 L445.53 242.03 L446.00 241.70 L446.55 241.25 L447.08 240.75 L447.61 240.20 L448.13 239.62 L448.65 239.04 L449.17 238.46 L449.68 237.91 L450.20 237.40 L450.67 236.99 L451.13 236.60 L451.60 236.23 L452.06 235.87 L452.53 235.51 L452.99 235.13 L453.45 234.73 L453.90 234.30 L454.42 233.77 L454.94 233.21 L455.46 232.63 L455.97 232.03 L456.48 231.42 L456.97 230.79 L457.45 230.15 L457.90 229.50 L458.33 228.82 L458.74 228.12 L459.13 227.40 L459.50 226.66 L459.87 225.93 L460.24 225.20 L460.61 224.49 L461.00 223.80 L461.37 223.18 L461.74 222.56 L462.12 221.96 L462.49 221.37 L462.87 220.78 L463.25 220.19 L463.62 219.60 L464.00 219.00 L464.43 219.09 L464.84 219.19 L465.24 219.29 L465.65 219.39 L466.07 219.48 L466.51 219.57 L466.98 219.64 L467.50 219.70 L468.42 219.75 L469.45 219.75 L470.56 219.73 L471.73 219.68 L472.92 219.62 L474.10 219.56 L475.24 219.52 L476.30 219.50 L477.16 219.50 L477.99 219.49 L478.80 219.49 L479.59 219.49 L480.38 219.50 L481.18 219.52 L481.98 219.56 L482.80 219.60 L483.69 219.67 L484.58 219.75 L485.49 219.85 L486.40 219.95 L487.31 220.07 L488.21 220.18 L489.11 220.29 L490.00 220.40 L490.85 220.51 L491.70 220.65 L492.56 220.80 L493.41 220.94 L494.24 221.07 L495.05 221.16 L495.84 221.21 L496.60 221.20 L497.21 221.16 L497.81 221.10 L498.39 221.02 L498.96 220.92 L499.51 220.78 L500.04 220.60 L500.54 220.38 L501.00 220.10 L501.44 219.76 L501.85 219.37 L502.24 218.92 L502.59 218.44 L502.92 217.92 L503.23 217.37 L503.52 216.80 L503.80 216.20 L504.12 215.40 L504.38 214.54 L504.61 213.63 L504.81 212.68 L504.99 211.68 L505.15 210.65 L505.32 209.59 L505.50 208.50 L505.74 207.01 L505.96 205.43 L506.17 203.78 L506.37 202.08 L506.57 200.35 L506.75 198.61 L506.93 196.89 L507.10 195.20 L507.26 193.55 L507.42 191.91 L507.56 190.27 L507.70 188.64 L507.83 186.99 L507.96 185.34 L508.08 183.68 L508.20 182.00 L508.32 180.24 L508.43 178.47 L508.53 176.69 L508.63 174.90 L508.73 173.10 L508.82 171.29 L508.91 169.45 L509.00 167.60 L509.10 165.56 L509.19 163.45 L509.28 161.31 L509.37 159.16 L509.46 157.03 L509.55 154.94 L509.62 152.92 L509.70 151.00 L509.76 149.55 L509.81 148.22 L509.86 146.95 L509.91 145.70 L509.96 144.42 L510.01 143.08 L510.05 141.62 L510.10 140.00 L510.17 136.96 L510.24 133.54 L510.31 129.83 L510.37 125.92 L510.43 121.90 L510.49 117.85 L510.54 113.85 L510.60 110.00 L510.65 106.20 L510.70 102.34 L510.75 98.46 L510.80 94.58 L510.85 90.76 L510.89 87.03 L510.95 83.43 L511.00 80.00 L511.05 77.40 L511.10 74.90 L511.14 72.49 L511.20 70.13 L511.25 67.81 L511.30 65.50 L511.35 63.17 L511.40 60.80 L512.12 60.80 L512.84 60.80 L513.56 60.80 L514.27 60.80 L514.99 60.80 L515.71 60.80 L516.43 60.80 L517.15 60.80 L517.87 60.80 L518.59 60.80 L519.31 60.80 L520.02 60.80 L520.74 60.80 L521.46 60.80 L522.18 60.80 L522.90 60.80 L522.95 63.17 L523.00 65.50 L523.05 67.81 L523.10 70.13 L523.16 72.49 L523.20 74.90 L523.25 77.40 L523.30 80.00 L523.35 83.43 L523.41 87.03 L523.45 90.76 L523.50 94.58 L523.55 98.46 L523.60 102.34 L523.65 106.20 L523.70 110.00 L523.76 113.85 L523.81 117.85 L523.87 121.90 L523.93 125.92 L523.99 129.83 L524.06 133.54 L524.13 136.96 L524.20 140.00 L524.25 141.62 L524.29 143.08 L524.34 144.42 L524.39 145.70 L524.44 146.95 L524.49 148.22 L524.54 149.55 L524.60 151.00 L524.68 152.92 L524.75 154.94 L524.84 157.03 L524.93 159.16 L525.02 161.31 L525.11 163.45 L525.20 165.56 L525.30 167.60 L525.39 169.45 L525.48 171.29 L525.57 173.10 L525.67 174.90 L525.77 176.69 L525.87 178.47 L525.98 180.24 L526.10 182.00 L526.22 183.68 L526.34 185.34 L526.47 186.99 L526.60 188.64 L526.74 190.27 L526.88 191.91 L527.04 193.55 L527.20 195.20 L527.37 196.89 L527.55 198.61 L527.73 200.35 L527.93 202.08 L528.13 203.78 L528.34 205.43 L528.56 207.01 L528.80 208.50 L528.98 209.59 L529.15 210.65 L529.31 211.68 L529.49 212.68 L529.69 213.63 L529.92 214.54 L530.18 215.40 L530.50 216.20 L530.78 216.80 L531.07 217.37 L531.38 217.92 L531.71 218.44 L532.06 218.92 L532.45 219.37 L532.86 219.76 L533.30 220.10 L533.76 220.38 L534.26 220.60 L534.79 220.78 L535.34 220.92 L535.91 221.02 L536.49 221.10 L537.09 221.16 L537.70 221.20 L538.46 221.21 L539.25 221.16 L540.06 221.07 L540.89 220.94 L541.74 220.80 L542.60 220.65 L543.45 220.51 L544.30 220.40 L545.19 220.29 L546.09 220.18 L546.99 220.07 L547.90 219.95 L548.81 219.85 L549.72 219.75 L550.61 219.67 L551.50 219.60 L552.32 219.56 L553.12 219.52 L553.92 219.50 L554.71 219.49 L555.50 219.49 L556.31 219.49 L557.14 219.50 L558.00 219.50 L559.06 219.52 L560.20 219.56 L561.38 219.62 L562.57 219.68 L563.74 219.73 L564.85 219.75 L565.88 219.75 L566.80 219.70 L567.32 219.64 L567.79 219.57 L568.23 219.48 L568.65 219.39 L569.06 219.29 L569.46 219.19 L569.87 219.09 L570.30 219.00 L570.68 219.60 L571.05 220.19 L571.43 220.78 L571.81 221.37 L572.18 221.96 L572.56 222.56 L572.93 223.18 L573.30 223.80 L573.69 224.49 L574.06 225.20 L574.43 225.93 L574.80 226.66 L575.17 227.40 L575.56 228.12 L575.97 228.82 L576.40 229.50 L576.85 230.15 L577.33 230.79 L577.82 231.42 L578.33 232.03 L578.84 232.63 L579.36 233.21 L579.88 233.77 L580.40 234.30 L580.85 234.73 L581.31 235.13 L581.77 235.51 L582.24 235.87 L582.70 236.23 L583.17 236.60 L583.63 236.99 L584.10 237.40 L584.62 237.91 L585.13 238.46 L585.65 239.04 L586.17 239.62 L586.69 240.20 L587.22 240.75 L587.75 241.25 L588.30 241.70 L588.77 242.03 L589.24 242.32 L589.70 242.58 L590.17 242.81 L590.66 243.04 L591.17 243.27 L591.71 243.52 L592.30 243.80 L593.26 244.27 L594.31 244.79 L595.43 245.34 L596.61 245.90 L597.83 246.45 L599.08 246.98 L600.34 247.47 L601.60 247.90 L602.98 248.30 L604.41 248.64 L605.87 248.93 L607.35 249.20 L608.84 249.45 L610.34 249.69 L611.83 249.94 L613.30 250.20 L614.75 250.48 L616.20 250.76 L617.65 251.04 L619.09 251.32 L620.54 251.59 L621.99 251.84 L623.44 252.08 L624.90 252.30 L626.36 252.50 L627.82 252.68 L629.28 252.85 L630.74 253.00 L632.21 253.14 L633.67 253.27 L635.14 253.39 L636.60 253.50 L638.05 253.59 L639.50 253.66 L640.95 253.72 L642.40 253.77 L643.85 253.81 L645.30 253.85 L646.75 253.90 L648.20 253.95" fill="none" stroke="#1414b4" stroke-width="1.3" stroke-linejoin="round" clip-path="url(#clip_b_dos)"/>
<path d="M52.20 657.60 L66.42 657.59 L82.06 657.58 L98.28 657.56 L114.21 657.54 L129.00 657.53 L141.79 657.54 L151.75 657.56 L158.00 657.60 L158.69 657.60 L159.27 657.60 L159.75 657.59 L160.16 657.59 L160.53 657.59 L160.87 657.61 L161.22 657.64 L161.60 657.70 L161.93 657.77 L162.23 657.85 L162.53 657.95 L162.82 658.05 L163.11 658.16 L163.40 658.28 L163.69 658.39 L164.00 658.50 L164.35 658.63 L164.70 658.79 L165.06 658.95 L165.43 659.11 L165.79 659.26 L166.16 659.38 L166.53 659.47 L166.90 659.50 L167.29 659.48 L167.68 659.42 L168.08 659.32 L168.48 659.19 L168.88 659.04 L169.26 658.87 L169.64 658.69 L170.00 658.50 L170.34 658.30 L170.67 658.09 L170.98 657.86 L171.29 657.61 L171.59 657.35 L171.89 657.08 L172.20 656.79 L172.50 656.50 L172.86 656.14 L173.23 655.75 L173.60 655.34 L173.97 654.92 L174.33 654.49 L174.68 654.06 L175.00 653.62 L175.30 653.20 L175.54 652.84 L175.77 652.48 L175.99 652.13 L176.19 651.78 L176.38 651.41 L176.56 651.03 L176.73 650.63 L176.90 650.20 L177.10 649.60 L177.28 648.96 L177.45 648.28 L177.60 647.58 L177.73 646.85 L177.86 646.11 L177.98 645.36 L178.10 644.60 L178.22 643.71 L178.33 642.78 L178.43 641.83 L178.51 640.86 L178.59 639.88 L178.66 638.91 L178.73 637.94 L178.80 637.00 L178.86 636.12 L178.92 635.26 L178.97 634.41 L179.02 633.56 L179.06 632.70 L179.11 631.83 L179.15 630.93 L179.20 630.00 L179.26 628.86 L179.33 627.71 L179.40 626.53 L179.46 625.33 L179.53 624.08 L179.59 622.78 L179.65 621.43 L179.70 620.00 L179.76 617.84 L179.81 615.51 L179.84 613.05 L179.87 610.49 L179.90 607.88 L179.93 605.23 L179.96 602.60 L180.00 600.00 L180.05 597.27 L180.09 594.51 L180.14 591.71 L180.19 588.91 L180.24 586.10 L180.29 583.30 L180.34 580.53 L180.40 577.80 L180.46 575.23 L180.52 572.68 L180.58 570.16 L180.64 567.64 L180.71 565.13 L180.77 562.63 L180.84 560.12 L180.90 557.60 L181.12 554.89 L181.34 552.17 L181.57 549.44 L181.80 546.71 L182.02 544.00 L182.23 541.30 L182.42 538.63 L182.60 536.00 L182.74 533.59 L182.87 531.23 L182.98 528.90 L183.09 526.59 L183.19 524.26 L183.29 521.91 L183.39 519.49 L183.50 517.00 L183.63 513.93 L183.77 510.63 L183.90 507.19 L184.04 503.74 L184.18 500.38 L184.32 497.24 L184.46 494.40 L184.60 492.00 L184.67 490.93 L184.75 489.97 L184.82 489.10 L184.90 488.28 L184.97 487.50 L185.05 486.72 L185.12 485.93 L185.20 485.10 L185.28 485.93 L185.35 486.72 L185.43 487.50 L185.50 488.28 L185.58 489.10 L185.65 489.97 L185.73 490.93 L185.80 492.00 L185.94 494.40 L186.08 497.24 L186.22 500.38 L186.36 503.74 L186.50 507.19 L186.63 510.63 L186.77 513.93 L186.90 517.00 L187.01 519.49 L187.11 521.91 L187.21 524.26 L187.31 526.59 L187.42 528.90 L187.53 531.23 L187.66 533.59 L187.80 536.00 L187.98 538.63 L188.17 541.30 L188.38 544.00 L188.60 546.71 L188.83 549.44 L189.06 552.17 L189.28 554.89 L189.50 557.60 L189.56 560.12 L189.63 562.63 L189.69 565.13 L189.76 567.64 L189.82 570.16 L189.88 572.68 L189.94 575.23 L190.00 577.80 L190.06 580.53 L190.11 583.30 L190.16 586.10 L190.21 588.91 L190.26 591.71 L190.31 594.51 L190.35 597.27 L190.40 600.00 L190.44 602.60 L190.47 605.23 L190.50 607.88 L190.53 610.49 L190.56 613.05 L190.59 615.51 L190.64 617.84 L190.70 620.00 L190.75 621.43 L190.81 622.78 L190.87 624.08 L190.94 625.33 L191.00 626.53 L191.07 627.71 L191.14 628.86 L191.20 630.00 L191.25 630.93 L191.29 631.83 L191.34 632.70 L191.38 633.56 L191.43 634.41 L191.48 635.26 L191.54 636.12 L191.60 637.00 L191.67 637.94 L191.74 638.91 L191.81 639.88 L191.89 640.86 L191.97 641.83 L192.07 642.78 L192.18 643.71 L192.30 644.60 L192.42 645.36 L192.54 646.11 L192.67 646.85 L192.80 647.58 L192.95 648.28 L193.12 648.96 L193.30 649.60 L193.50 650.20 L193.67 650.63 L193.84 651.03 L194.02 651.41 L194.21 651.78 L194.41 652.13 L194.63 652.48 L194.86 652.84 L195.10 653.20 L195.40 653.62 L195.72 654.06 L196.07 654.49 L196.43 654.92 L196.80 655.34 L197.17 655.75 L197.54 656.14 L197.90 656.50 L198.20 656.79 L198.51 657.08 L198.81 657.35 L199.11 657.61 L199.42 657.86 L199.73 658.09 L200.06 658.30 L200.40 658.50 L200.76 658.69 L201.14 658.87 L201.52 659.04 L201.92 659.19 L202.32 659.32 L202.72 659.42 L203.11 659.48 L203.50 659.50 L203.87 659.47 L204.24 659.38 L204.61 659.26 L204.97 659.11 L205.34 658.95 L205.70 658.79 L206.05 658.63 L206.40 658.50 L206.71 658.39 L207.00 658.28 L207.29 658.16 L207.58 658.05 L207.87 657.95 L208.17 657.85 L208.47 657.77 L208.80 657.70 L209.18 657.64 L209.53 657.61 L209.87 657.59 L210.24 657.59 L210.65 657.59 L211.13 657.60 L211.71 657.60 L212.40 657.60 L218.65 657.56 L228.61 657.54 L241.40 657.53 L256.19 657.54 L272.12 657.56 L288.34 657.58 L303.98 657.59 L318.20 657.60" fill="none" stroke="#1414b4" stroke-width="1.3" stroke-linejoin="round" clip-path="url(#clip_c_dos)"/>
<path d="M378.20 662.70 L379.81 662.65 L381.42 662.60 L383.03 662.55 L384.64 662.51 L386.25 662.46 L387.86 662.41 L389.48 662.35 L391.10 662.30 L392.74 662.25 L394.39 662.20 L396.04 662.15 L397.70 662.11 L399.35 662.05 L401.00 661.98 L402.65 661.90 L404.30 661.80 L405.94 661.68 L407.58 661.55 L409.22 661.41 L410.85 661.25 L412.49 661.08 L414.13 660.90 L415.76 660.71 L417.40 660.50 L419.05 660.28 L420.70 660.05 L422.36 659.81 L424.01 659.55 L425.66 659.28 L427.31 659.00 L428.96 658.71 L430.60 658.40 L432.29 658.07 L434.04 657.71 L435.81 657.33 L437.56 656.94 L439.27 656.55 L440.88 656.18 L442.37 655.82 L443.70 655.50 L444.41 655.33 L445.05 655.17 L445.63 655.02 L446.19 654.87 L446.73 654.72 L447.29 654.56 L447.87 654.39 L448.50 654.20 L449.37 653.93 L450.30 653.63 L451.27 653.31 L452.26 652.98 L453.25 652.64 L454.21 652.29 L455.14 651.94 L456.00 651.60 L456.66 651.32 L457.30 651.02 L457.91 650.73 L458.51 650.43 L459.10 650.13 L459.67 649.84 L460.24 649.56 L460.80 649.30 L461.28 649.08 L461.76 648.87 L462.22 648.67 L462.68 648.48 L463.13 648.28 L463.59 648.09 L464.04 647.90 L464.50 647.70 L465.07 647.70 L465.61 647.69 L466.14 647.69 L466.68 647.68 L467.24 647.68 L467.84 647.68 L468.48 647.68 L469.20 647.70 L470.72 647.77 L472.50 647.88 L474.47 648.02 L476.55 648.17 L478.66 648.31 L480.73 648.43 L482.66 648.50 L484.40 648.50 L485.56 648.48 L486.67 648.46 L487.74 648.43 L488.78 648.37 L489.77 648.29 L490.74 648.15 L491.68 647.96 L492.60 647.70 L493.42 647.40 L494.24 647.07 L495.04 646.68 L495.81 646.26 L496.55 645.80 L497.23 645.30 L497.85 644.77 L498.40 644.20 L498.83 643.65 L499.20 643.06 L499.51 642.45 L499.79 641.80 L500.03 641.13 L500.25 640.42 L500.47 639.67 L500.70 638.90 L501.00 637.80 L501.28 636.64 L501.52 635.43 L501.75 634.15 L501.95 632.82 L502.15 631.41 L502.33 629.94 L502.50 628.40 L502.73 625.92 L502.92 623.21 L503.07 620.31 L503.20 617.28 L503.31 614.18 L503.40 611.07 L503.50 607.99 L503.60 605.00 L503.70 602.06 L503.78 599.08 L503.85 596.09 L503.92 593.11 L503.98 590.15 L504.04 587.25 L504.12 584.43 L504.20 581.70 L504.28 579.46 L504.36 577.25 L504.45 575.08 L504.54 572.96 L504.64 570.89 L504.73 568.87 L504.82 566.91 L504.90 565.00 L504.97 563.53 L505.03 562.14 L505.10 560.80 L505.16 559.50 L505.22 558.18 L505.28 556.83 L505.34 555.42 L505.40 553.90 L505.45 551.69 L505.47 549.27 L505.47 546.71 L505.48 544.10 L505.51 541.51 L505.57 539.03 L505.70 536.73 L505.90 534.70 L506.08 533.54 L506.30 532.49 L506.54 531.52 L506.79 530.60 L507.06 529.68 L507.32 528.75 L507.57 527.77 L507.80 526.70 L508.07 525.29 L508.34 523.85 L508.60 522.38 L508.85 520.86 L509.08 519.26 L509.31 517.58 L509.51 515.80 L509.70 513.90 L509.94 510.57 L510.13 506.82 L510.27 502.77 L510.38 498.53 L510.46 494.23 L510.54 489.96 L510.61 485.84 L510.70 482.00 L510.78 478.92 L510.85 475.94 L510.91 473.03 L510.97 470.17 L511.03 467.34 L511.08 464.51 L511.14 461.67 L511.20 458.80 L511.26 461.67 L511.32 464.51 L511.37 467.34 L511.43 470.17 L511.49 473.03 L511.55 475.94 L511.62 478.92 L511.70 482.00 L511.79 485.84 L511.86 489.96 L511.94 494.23 L512.02 498.53 L512.13 502.77 L512.27 506.82 L512.46 510.57 L512.70 513.90 L512.89 515.80 L513.09 517.58 L513.32 519.26 L513.55 520.86 L513.80 522.38 L514.06 523.85 L514.33 525.29 L514.60 526.70 L514.83 527.77 L515.08 528.75 L515.34 529.68 L515.61 530.60 L515.86 531.52 L516.10 532.49 L516.32 533.54 L516.50 534.70 L516.70 536.73 L516.83 539.03 L516.89 541.51 L516.92 544.10 L516.93 546.71 L516.93 549.27 L516.95 551.69 L517.00 553.90 L517.06 555.42 L517.12 556.83 L517.18 558.18 L517.24 559.50 L517.30 560.80 L517.37 562.14 L517.43 563.53 L517.50 565.00 L517.58 566.91 L517.67 568.87 L517.76 570.89 L517.86 572.96 L517.95 575.08 L518.04 577.25 L518.12 579.46 L518.20 581.70 L518.28 584.43 L518.36 587.25 L518.42 590.15 L518.48 593.11 L518.55 596.09 L518.62 599.08 L518.70 602.06 L518.80 605.00 L518.90 607.99 L519.00 611.07 L519.09 614.18 L519.20 617.28 L519.33 620.31 L519.48 623.21 L519.67 625.92 L519.90 628.40 L520.07 629.94 L520.25 631.41 L520.45 632.82 L520.65 634.15 L520.88 635.43 L521.12 636.64 L521.40 637.80 L521.70 638.90 L521.93 639.67 L522.15 640.42 L522.37 641.13 L522.61 641.80 L522.89 642.45 L523.20 643.06 L523.57 643.65 L524.00 644.20 L524.55 644.77 L525.17 645.30 L525.85 645.80 L526.59 646.26 L527.36 646.68 L528.16 647.07 L528.98 647.40 L529.80 647.70 L530.72 647.96 L531.66 648.15 L532.63 648.29 L533.62 648.37 L534.66 648.43 L535.73 648.46 L536.84 648.48 L538.00 648.50 L539.74 648.50 L541.67 648.43 L543.74 648.31 L545.85 648.17 L547.93 648.02 L549.90 647.88 L551.68 647.77 L553.20 647.70 L553.92 647.68 L554.56 647.68 L555.16 647.68 L555.72 647.68 L556.26 647.69 L556.79 647.69 L557.33 647.70 L557.90 647.70 L558.36 647.90 L558.81 648.09 L559.27 648.28 L559.72 648.48 L560.18 648.67 L560.64 648.87 L561.12 649.08 L561.60 649.30 L562.16 649.56 L562.73 649.84 L563.30 650.13 L563.89 650.43 L564.49 650.73 L565.10 651.02 L565.74 651.32 L566.40 651.60 L567.26 651.94 L568.19 652.29 L569.15 652.64 L570.14 652.98 L571.13 653.31 L572.10 653.63 L573.03 653.93 L573.90 654.20 L574.53 654.39 L575.11 654.56 L575.67 654.72 L576.21 654.87 L576.77 655.02 L577.35 655.17 L577.99 655.33 L578.70 655.50 L580.03 655.82 L581.52 656.18 L583.13 656.55 L584.84 656.94 L586.59 657.33 L588.36 657.71 L590.11 658.07 L591.80 658.40 L593.44 658.71 L595.09 659.00 L596.74 659.28 L598.39 659.55 L600.04 659.81 L601.70 660.05 L603.35 660.28 L605.00 660.50 L606.64 660.71 L608.27 660.90 L609.91 661.08 L611.55 661.25 L613.18 661.41 L614.82 661.55 L616.46 661.68 L618.10 661.80 L619.75 661.90 L621.40 661.98 L623.05 662.05 L624.70 662.11 L626.36 662.15 L628.01 662.20 L629.66 662.25 L631.30 662.30 L632.92 662.35 L634.54 662.41 L636.15 662.46 L637.76 662.51 L639.37 662.55 L640.98 662.60 L642.59 662.65 L644.20 662.70" fill="none" stroke="#1414b4" stroke-width="1.3" stroke-linejoin="round" clip-path="url(#clip_d_dos)"/>
<path d="M254.6 192.3H266.9" stroke="#000" stroke-width="2.2"/>
<path d="M254.6 209.5H266.9" stroke="#1f55e0" stroke-width="2.2"/>
<path d="M256.4 605.5H268" stroke="#000" stroke-width="2.2"/>
<path d="M256.9 622.9H268" stroke="#1f55e0" stroke-width="2.2"/>
<path d="M87.90 270.90H100.00" stroke="#000000" stroke-width="1.15"/>
<path d="M34.40 330.70H46.50" stroke="#d43030" stroke-width="1.15"/>
<path d="M34.40 367.50H46.50" stroke="#d43030" stroke-width="1.15"/>
<path d="M87.90 380.10H100.00" stroke="#000000" stroke-width="1.15"/>
<path d="M370.80 271.10H382.90" stroke="#000000" stroke-width="1.15"/>
<path d="M435.80 270.90H447.90" stroke="#000000" stroke-width="1.15"/>
<path d="M359.20 328.40H371.30" stroke="#d43030" stroke-width="1.15"/>
<path d="M359.20 366.10H371.30" stroke="#d43030" stroke-width="1.15"/>
<path d="M371.00 381.50H383.10" stroke="#000000" stroke-width="1.15"/>
<path d="M435.80 381.30H447.90" stroke="#000000" stroke-width="1.15"/>
<path d="M33.70 678.60H45.80" stroke="#000000" stroke-width="1.15"/>
<path d="M100.50 678.50H112.60" stroke="#000000" stroke-width="1.15"/>
<path d="M24.50 737.60H36.60" stroke="#d43030" stroke-width="1.15"/>
<path d="M24.50 775.90H36.60" stroke="#d43030" stroke-width="1.15"/>
<path d="M33.50 790.30H45.60" stroke="#000000" stroke-width="1.15"/>
<path d="M100.20 790.30H112.30" stroke="#000000" stroke-width="1.15"/>
<path d="M361.90 678.40H374.00" stroke="#000000" stroke-width="1.15"/>
<path d="M427.70 678.50H439.80" stroke="#000000" stroke-width="1.15"/>
<path d="M352.30 737.60H364.40" stroke="#d43030" stroke-width="1.15"/>
<path d="M351.80 776.00H363.90" stroke="#d43030" stroke-width="1.15"/>
<path d="M362.50 790.60H374.60" stroke="#000000" stroke-width="1.15"/>
<path d="M428.80 790.50H440.90" stroke="#000000" stroke-width="1.15"/>
<path d="M77.6 2.40 C78.6 0.20 80.0 0.30 81.3 1.20 S83.9 2.20 85.0 0.00" fill="none" stroke="#000" stroke-width="1.1"/>
<path d="M77.6 411.10 C78.6 408.90 80.0 409.00 81.3 409.90 S83.9 410.90 85.0 408.70" fill="none" stroke="#000" stroke-width="1.1"/>
<path d="M0.5 437.5H97.8" stroke="#d8d8d8" stroke-width="1.1"/>
<g transform="matrix(0.65000 0 0 0.78095 0.900 20.800)"><text x="0.000" y="0.000" font-family='"Liberation Serif", serif' font-size="32.000" fill="#000000"><tspan >AA</tspan></text></g>
<g transform="matrix(0.61111 0 0 0.82143 38.789 20.971)"><text x="0.000" y="0.000" font-family='"Liberation Serif", serif' font-size="32.000" fill="#000000"><tspan >(</tspan></text></g>
<g transform="matrix(0.70952 0 0 0.78571 46.290 20.900)"><text x="0.000" y="0.000" font-family='"Liberation Serif", serif' font-size="32.000" fill="#000000"><tspan >G</tspan></text></g>
<g transform="matrix(1.01111 0 0 1.08571 62.900 25.700)"><text x="0.000" y="0.000" font-family='"Liberation Serif", serif' font-size="32.000" fill="#000000"><tspan >/</tspan></text></g>
<g transform="matrix(0.70952 0 0 0.78571 73.290 20.900)"><text x="0.000" y="0.000" font-family='"Liberation Serif", serif' font-size="32.000" fill="#000000"><tspan >G</tspan></text></g>
<g transform="matrix(0.68750 0 0 0.82143 89.412 20.971)"><text x="0.000" y="0.000" font-family='"Liberation Serif", serif' font-size="32.000" fill="#000000"><tspan >)</tspan></text></g>
<g transform="matrix(0.68372 0 0 0.78095 0.900 429.500)"><text x="0.000" y="0.000" font-family='"Liberation Serif", serif' font-size="32.000" fill="#000000"><tspan >AB</tspan></text></g>
<g transform="matrix(0.61111 0 0 0.82143 38.789 429.671)"><text x="0.000" y="0.000" font-family='"Liberation Serif", serif' font-size="32.000" fill="#000000"><tspan >(</tspan></text></g>
<g transform="matrix(0.70952 0 0 0.78571 46.290 429.600)"><text x="0.000" y="0.000" font-family='"Liberation Serif", serif' font-size="32.000" fill="#000000"><tspan >G</tspan></text></g>
<g transform="matrix(1.01111 0 0 1.08571 62.900 434.400)"><text x="0.000" y="0.000" font-family='"Liberation Serif", serif' font-size="32.000" fill="#000000"><tspan >/</tspan></text></g>
<g transform="matrix(0.70952 0 0 0.78571 73.290 429.600)"><text x="0.000" y="0.000" font-family='"Liberation Serif", serif' font-size="32.000" fill="#000000"><tspan >G</tspan></text></g>
<g transform="matrix(0.68750 0 0 0.82143 89.412 429.671)"><text x="0.000" y="0.000" font-family='"Liberation Serif", serif' font-size="32.000" fill="#000000"><tspan >)</tspan></text></g>
<g transform="matrix(0.47778 0 0 0.66071 137.322 31.236)"><text x="0.000" y="0.000" font-family='"Liberation Serif", serif' font-size="32.000" fill="#000000"><tspan >(</tspan></text></g>
<g transform="matrix(0.62308 0 0 0.51333 143.377 30.600)"><text x="0.000" y="0.000" font-family='"Liberation Serif", serif' font-size="32.000" fill="#000000"><tspan >a</tspan></text></g>
<g transform="matrix(0.53750 0 0 0.66071 152.463 31.236)"><text x="0.000" y="0.000" font-family='"Liberation Serif", serif' font-size="32.000" fill="#000000"><tspan >)</tspan></text></g>
<g transform="matrix(0.71250 0 0 0.61111 163.688 31.000)"><text x="0.000" y="0.000" font-family='"Liberation Serif", serif' font-size="32.000" fill="#000000"><tspan >t</tspan></text></g>
<g transform="matrix(0.46923 0 0 0.36190 170.131 33.800)"><text x="0.000" y="0.000" font-family='"Liberation Serif", serif' font-size="32.000" fill="#000000"><tspan >2</tspan></text></g>
<g transform="matrix(0.78667 0 0 0.57500 181.827 33.025)"><text x="0.000" y="0.000" font-family='"Liberation Serif", serif' font-size="32.000" fill="#000000"><tspan >=</tspan></text></g>
<g transform="matrix(0.55283 0 0 0.61905 201.047 31.100)"><text x="0.000" y="0.000" font-family='"Liberation Serif", serif' font-size="32.000" fill="#000000"><tspan >0.01</tspan></text></g>
<g transform="matrix(0.66250 0 0 0.61667 237.238 31.100)"><text x="0.000" y="0.000" font-family='"Liberation Serif", serif' font-size="32.000" fill="#000000"><tspan >t</tspan></text></g>
<g transform="matrix(0.46667 0 0 0.41739 243.133 32.678)"><text x="0.000" y="0.000" font-family='"Liberation Serif", serif' font-size="32.000" fill="#000000"><tspan >g</tspan></text></g>
<g transform="matrix(0.52222 0 0 0.69286 458.778 31.043)"><text x="0.000" y="0.000" font-family='"Liberation Serif", serif' font-size="32.000" fill="#000000"><tspan >(</tspan></text></g>
<g transform="matrix(0.70000 0 0 0.58261 463.500 30.600)"><text x="0.000" y="0.000" font-family='"Liberation Serif", serif' font-size="32.000" fill="#000000"><tspan >b</tspan></text></g>
<g transform="matrix(0.60000 0 0 0.69286 473.800 31.043)"><text x="0.000" y="0.000" font-family='"Liberation Serif", serif' font-size="32.000" fill="#000000"><tspan >)</tspan></text></g>
<g transform="matrix(0.77500 0 0 0.60000 485.525 30.800)"><text x="0.000" y="0.000" font-family='"Liberation Serif", serif' font-size="32.000" fill="#000000"><tspan >t</tspan></text></g>
<g transform="matrix(0.46923 0 0 0.36667 492.531 33.300)"><text x="0.000" y="0.000" font-family='"Liberation Serif", serif' font-size="32.000" fill="#000000"><tspan >2</tspan></text></g>
<g transform="matrix(0.92000 0 0 0.57500 502.460 32.625)"><text x="0.000" y="0.000" font-family='"Liberation Serif", serif' font-size="32.000" fill="#000000"><tspan >=</tspan></text></g>
<g transform="matrix(0.55405 0 0 0.61429 522.846 30.900)"><text x="0.000" y="0.000" font-family='"Liberation Serif", serif' font-size="32.000" fill="#000000"><tspan >0.1</tspan></text></g>
<g transform="matrix(0.76250 0 0 0.61667 550.337 30.900)"><text x="0.000" y="0.000" font-family='"Liberation Serif", serif' font-size="32.000" fill="#000000"><tspan >t</tspan></text></g>
<g transform="matrix(0.44000 0 0 0.40000 557.600 32.500)"><text x="0.000" y="0.000" font-family='"Liberation Serif", serif' font-size="32.000" fill="#000000"><tspan font-style="italic">g</tspan></text></g>
<g transform="matrix(0.53333 0 0 0.67143 127.967 434.571)"><text x="0.000" y="0.000" font-family='"Liberation Serif", serif' font-size="32.000" fill="#000000"><tspan >(</tspan></text></g>
<g transform="matrix(0.58333 0 0 0.55333 134.017 434.300)"><text x="0.000" y="0.000" font-family='"Liberation Serif", serif' font-size="32.000" fill="#000000"><tspan >c</tspan></text></g>
<g transform="matrix(0.60000 0 0 0.67143 142.800 434.571)"><text x="0.000" y="0.000" font-family='"Liberation Serif", serif' font-size="32.000" fill="#000000"><tspan >)</tspan></text></g>
<g transform="matrix(0.73750 0 0 0.65000 155.062 434.300)"><text x="0.000" y="0.000" font-family='"Liberation Serif", serif' font-size="32.000" fill="#000000"><tspan >t</tspan></text></g>
<g transform="matrix(0.45385 0 0 0.43333 161.546 436.900)"><text x="0.000" y="0.000" font-family='"Liberation Serif", serif' font-size="32.000" fill="#000000"><tspan >2</tspan></text></g>
<g transform="matrix(0.82667 0 0 0.58750 172.847 435.512)"><text x="0.000" y="0.000" font-family='"Liberation Serif", serif' font-size="32.000" fill="#000000"><tspan >=</tspan></text></g>
<g transform="matrix(0.56415 0 0 0.65238 192.536 434.900)"><text x="0.000" y="0.000" font-family='"Liberation Serif", serif' font-size="32.000" fill="#000000"><tspan >0.01</tspan></text></g>
<g transform="matrix(0.65000 0 0 0.68333 229.450 434.900)"><text x="0.000" y="0.000" font-family='"Liberation Serif", serif' font-size="32.000" fill="#000000"><tspan >t</tspan></text></g>
<g transform="matrix(0.46000 0 0 0.41304 235.740 436.809)"><text x="0.000" y="0.000" font-family='"Liberation Serif", serif' font-size="32.000" fill="#000000"><tspan >g</tspan></text></g>
<g transform="matrix(0.53333 0 0 0.66071 457.767 434.736)"><text x="0.000" y="0.000" font-family='"Liberation Serif", serif' font-size="32.000" fill="#000000"><tspan >(</tspan></text></g>
<g transform="matrix(0.63333 0 0 0.52609 463.867 433.700)"><text x="0.000" y="0.000" font-family='"Liberation Serif", serif' font-size="32.000" fill="#000000"><tspan >d</tspan></text></g>
<g transform="matrix(0.58750 0 0 0.66071 473.413 434.736)"><text x="0.000" y="0.000" font-family='"Liberation Serif", serif' font-size="32.000" fill="#000000"><tspan >)</tspan></text></g>
<g transform="matrix(0.71250 0 0 0.62778 485.588 433.900)"><text x="0.000" y="0.000" font-family='"Liberation Serif", serif' font-size="32.000" fill="#000000"><tspan >t</tspan></text></g>
<g transform="matrix(0.50769 0 0 0.38571 491.992 437.300)"><text x="0.000" y="0.000" font-family='"Liberation Serif", serif' font-size="32.000" fill="#000000"><tspan >2</tspan></text></g>
<g transform="matrix(0.85333 0 0 0.58750 503.593 435.713)"><text x="0.000" y="0.000" font-family='"Liberation Serif", serif' font-size="32.000" fill="#000000"><tspan >=</tspan></text></g>
<g transform="matrix(0.57568 0 0 0.65238 523.224 434.700)"><text x="0.000" y="0.000" font-family='"Liberation Serif", serif' font-size="32.000" fill="#000000"><tspan >0.1</tspan></text></g>
<g transform="matrix(0.71250 0 0 0.65000 551.587 434.300)"><text x="0.000" y="0.000" font-family='"Liberation Serif", serif' font-size="32.000" fill="#000000"><tspan >t</tspan></text></g>
<g transform="matrix(0.45333 0 0 0.41739 557.947 436.178)"><text x="0.000" y="0.000" font-family='"Liberation Serif", serif' font-size="32.000" fill="#000000"><tspan >g</tspan></text></g>
<g transform="matrix(0.61905 0 0 0.58033 17.200 201.280)"><text x="0.000" y="0.000" font-family='"Liberation Serif", serif' font-size="32.000" fill="#000000" transform="rotate(-90 0.000 0.000)" stroke="#fff" stroke-width="0.250"><tspan >DOS</tspan></text></g>
<g transform="matrix(0.71481 0 0 0.77500 17.611 159.775)"><text x="0.000" y="0.000" font-family='"Liberation Serif", serif' font-size="32.000" fill="#000000" transform="rotate(-90 0.000 0.000)" stroke="#fff" stroke-width="0.202"><tspan >(</tspan></text></g>
<g transform="matrix(0.59333 0 0 0.60833 17.200 153.408)"><text x="0.000" y="0.000" font-family='"Liberation Serif", serif' font-size="32.000" fill="#000000" transform="rotate(-90 0.000 0.000)" stroke="#fff" stroke-width="0.250"><tspan >e</tspan></text></g>
<g transform="matrix(0.61905 0 0 0.54348 17.200 145.500)"><text x="0.000" y="0.000" font-family='"Liberation Serif", serif' font-size="32.000" fill="#000000" transform="rotate(-90 0.000 0.000)" stroke="#fff" stroke-width="0.259"><tspan >V</tspan></text></g>
<g transform="matrix(0.80000 0 0 0.58667 15.800 133.173)"><text x="0.000" y="0.000" font-family='"Liberation Serif", serif' font-size="32.000" fill="#000000" transform="rotate(-90 0.000 0.000)" stroke="#fff" stroke-width="0.219"><tspan >−</tspan></text></g>
<g transform="matrix(0.43810 0 0 0.33636 11.000 122.709)"><text x="0.000" y="0.000" font-family='"Liberation Serif", serif' font-size="32.000" fill="#000000" transform="rotate(-90 0.000 0.000)" stroke="#fff" stroke-width="0.391"><tspan >1</tspan></text></g>
<g transform="matrix(0.60769 0 0 0.47826 16.900 115.400)"><text x="0.000" y="0.000" font-family='"Liberation Serif", serif' font-size="32.000" fill="#000000" transform="rotate(-90 0.000 0.000)" stroke="#fff" stroke-width="0.278"><tspan >Å</tspan></text></g>
<g transform="matrix(0.80000 0 0 0.52000 15.800 103.240)"><text x="0.000" y="0.000" font-family='"Liberation Serif", serif' font-size="32.000" fill="#000000" transform="rotate(-90 0.000 0.000)" stroke="#fff" stroke-width="0.233"><tspan >−</tspan></text></g>
<g transform="matrix(0.45238 0 0 0.43077 11.100 93.431)"><text x="0.000" y="0.000" font-family='"Liberation Serif", serif' font-size="32.000" fill="#000000" transform="rotate(-90 0.000 0.000)" stroke="#fff" stroke-width="0.340"><tspan >2</tspan></text></g>
<g transform="matrix(0.65172 0 0 0.56250 17.238 86.662)"><text x="0.000" y="0.000" font-family='"Liberation Serif", serif' font-size="32.000" fill="#000000" transform="rotate(-90 0.000 0.000)" stroke="#fff" stroke-width="0.248"><tspan >)</tspan></text></g>
<g transform="matrix(0.61905 0 0 0.58033 17.200 603.480)"><text x="0.000" y="0.000" font-family='"Liberation Serif", serif' font-size="32.000" fill="#000000" transform="rotate(-90 0.000 0.000)" stroke="#fff" stroke-width="0.250"><tspan >DOS</tspan></text></g>
<g transform="matrix(0.71481 0 0 0.77500 17.611 561.975)"><text x="0.000" y="0.000" font-family='"Liberation Serif", serif' font-size="32.000" fill="#000000" transform="rotate(-90 0.000 0.000)" stroke="#fff" stroke-width="0.202"><tspan >(</tspan></text></g>
<g transform="matrix(0.59333 0 0 0.60833 17.200 554.408)"><text x="0.000" y="0.000" font-family='"Liberation Serif", serif' font-size="32.000" fill="#000000" transform="rotate(-90 0.000 0.000)" stroke="#fff" stroke-width="0.250"><tspan >e</tspan></text></g>
<g transform="matrix(0.61905 0 0 0.54348 17.200 546.500)"><text x="0.000" y="0.000" font-family='"Liberation Serif", serif' font-size="32.000" fill="#000000" transform="rotate(-90 0.000 0.000)" stroke="#fff" stroke-width="0.259"><tspan >V</tspan></text></g>
<g transform="matrix(0.80000 0 0 0.58667 15.800 534.173)"><text x="0.000" y="0.000" font-family='"Liberation Serif", serif' font-size="32.000" fill="#000000" transform="rotate(-90 0.000 0.000)" stroke="#fff" stroke-width="0.219"><tspan >−</tspan></text></g>
<g transform="matrix(0.43810 0 0 0.33636 11.000 523.709)"><text x="0.000" y="0.000" font-family='"Liberation Serif", serif' font-size="32.000" fill="#000000" transform="rotate(-90 0.000 0.000)" stroke="#fff" stroke-width="0.391"><tspan >1</tspan></text></g>
<g transform="matrix(0.60769 0 0 0.47826 16.900 516.400)"><text x="0.000" y="0.000" font-family='"Liberation Serif", serif' font-size="32.000" fill="#000000" transform="rotate(-90 0.000 0.000)" stroke="#fff" stroke-width="0.278"><tspan >Å</tspan></text></g>
<g transform="matrix(0.80000 0 0 0.52000 15.800 504.240)"><text x="0.000" y="0.000" font-family='"Liberation Serif", serif' font-size="32.000" fill="#000000" transform="rotate(-90 0.000 0.000)" stroke="#fff" stroke-width="0.233"><tspan >−</tspan></text></g>
<g transform="matrix(0.45238 0 0 0.43077 11.100 494.431)"><text x="0.000" y="0.000" font-family='"Liberation Serif", serif' font-size="32.000" fill="#000000" transform="rotate(-90 0.000 0.000)" stroke="#fff" stroke-width="0.340"><tspan >2</tspan></text></g>
<g transform="matrix(0.65172 0 0 0.56250 17.238 487.663)"><text x="0.000" y="0.000" font-family='"Liberation Serif", serif' font-size="32.000" fill="#000000" transform="rotate(-90 0.000 0.000)" stroke="#fff" stroke-width="0.248"><tspan >)</tspan></text></g>
<g transform="matrix(0.64762 0 0 0.57692 669.900 99.523)"><text x="0.000" y="0.000" font-family='"Liberation Serif", serif' font-size="32.000" fill="#2a58cc" transform="rotate(90 0.000 0.000)" stroke="#fff" stroke-width="0.245"><tspan >OHC</tspan></text></g>
<g transform="matrix(0.65000 0 0 0.46667 670.100 145.333)"><text x="0.000" y="0.000" font-family='"Liberation Serif", serif' font-size="32.000" fill="#2a58cc" transform="rotate(90 0.000 0.000)" stroke="#fff" stroke-width="0.272"><tspan >(</tspan></text></g>
<g transform="matrix(0.52667 0 0 0.63333 670.300 149.967)"><text x="0.000" y="0.000" font-family='"Liberation Serif", serif' font-size="32.000" fill="#2a58cc" transform="rotate(90 0.000 0.000)" stroke="#fff" stroke-width="0.260"><tspan >e</tspan></text></g>
<g transform="matrix(0.86667 0 0 0.80000 666.200 158.900)"><text x="0.000" y="0.000" font-family='"Liberation Serif", serif' font-size="32.000" fill="#2a58cc" transform="rotate(90 0.000 0.000)" stroke="#fff" stroke-width="0.180"><tspan >/</tspan></text></g>
<g transform="matrix(0.57143 0 0 0.66154 670.300 166.438)"><text x="0.000" y="0.000" font-family='"Liberation Serif", serif' font-size="32.000" fill="#2a58cc" transform="rotate(90 0.000 0.000)" stroke="#fff" stroke-width="0.244"><tspan >2</tspan></text></g>
<g transform="matrix(0.54667 0 0 0.52941 670.300 176.700)"><text x="0.000" y="0.000" font-family='"Liberation Serif", serif' font-size="32.000" fill="#2a58cc" transform="rotate(90 0.000 0.000)" stroke="#fff" stroke-width="0.279"><tspan font-style="italic">π</tspan></text></g>
<g transform="matrix(0.65000 0 0 0.51250 670.100 186.888)"><text x="0.000" y="0.000" font-family='"Liberation Serif", serif' font-size="32.000" fill="#2a58cc" transform="rotate(90 0.000 0.000)" stroke="#fff" stroke-width="0.260"><tspan >)</tspan></text></g>
<g transform="matrix(0.64762 0 0 0.57692 669.900 504.223)"><text x="0.000" y="0.000" font-family='"Liberation Serif", serif' font-size="32.000" fill="#2a58cc" transform="rotate(90 0.000 0.000)" stroke="#fff" stroke-width="0.245"><tspan >OHC</tspan></text></g>
<g transform="matrix(0.65000 0 0 0.46667 670.100 550.033)"><text x="0.000" y="0.000" font-family='"Liberation Serif", serif' font-size="32.000" fill="#2a58cc" transform="rotate(90 0.000 0.000)" stroke="#fff" stroke-width="0.272"><tspan >(</tspan></text></g>
<g transform="matrix(0.52667 0 0 0.63333 670.300 554.667)"><text x="0.000" y="0.000" font-family='"Liberation Serif", serif' font-size="32.000" fill="#2a58cc" transform="rotate(90 0.000 0.000)" stroke="#fff" stroke-width="0.260"><tspan >e</tspan></text></g>
<g transform="matrix(0.86667 0 0 0.80000 666.200 563.600)"><text x="0.000" y="0.000" font-family='"Liberation Serif", serif' font-size="32.000" fill="#2a58cc" transform="rotate(90 0.000 0.000)" stroke="#fff" stroke-width="0.180"><tspan >/</tspan></text></g>
<g transform="matrix(0.57143 0 0 0.66154 670.300 571.138)"><text x="0.000" y="0.000" font-family='"Liberation Serif", serif' font-size="32.000" fill="#2a58cc" transform="rotate(90 0.000 0.000)" stroke="#fff" stroke-width="0.244"><tspan >2</tspan></text></g>
<g transform="matrix(0.54667 0 0 0.52941 670.300 581.400)"><text x="0.000" y="0.000" font-family='"Liberation Serif", serif' font-size="32.000" fill="#2a58cc" transform="rotate(90 0.000 0.000)" stroke="#fff" stroke-width="0.279"><tspan font-style="italic">π</tspan></text></g>
<g transform="matrix(0.65000 0 0 0.51250 670.100 591.587)"><text x="0.000" y="0.000" font-family='"Liberation Serif", serif' font-size="32.000" fill="#2a58cc" transform="rotate(90 0.000 0.000)" stroke="#fff" stroke-width="0.260"><tspan >)</tspan></text></g>
<g transform="matrix(0.68571 0 0 0.60909 27.200 375.100)"><text x="0.000" y="0.000" font-family='"Liberation Serif", serif' font-size="32.000" fill="#d43030" transform="rotate(-90 0.000 0.000)" stroke="#fff" stroke-width="0.232"><tspan >AHC</tspan></text></g>
<g transform="matrix(0.68889 0 0 0.60000 26.667 330.700)"><text x="0.000" y="0.000" font-family='"Liberation Serif", serif' font-size="32.000" fill="#d43030" transform="rotate(-90 0.000 0.000)" stroke="#fff" stroke-width="0.233"><tspan >(</tspan></text></g>
<g transform="matrix(0.68000 0 0 0.60000 27.200 325.300)"><text x="0.000" y="0.000" font-family='"Liberation Serif", serif' font-size="32.000" fill="#d43030" transform="rotate(-90 0.000 0.000)" stroke="#fff" stroke-width="0.235"><tspan >e</tspan></text></g>
<g transform="matrix(0.42857 0 0 0.42308 20.600 317.323)"><text x="0.000" y="0.000" font-family='"Liberation Serif", serif' font-size="32.000" fill="#d43030" transform="rotate(-90 0.000 0.000)" stroke="#fff" stroke-width="0.352"><tspan >2</tspan></text></g>
<g transform="matrix(0.85714 0 0 0.93333 30.800 310.800)"><text x="0.000" y="0.000" font-family='"Liberation Serif", serif' font-size="32.000" fill="#d43030" transform="rotate(-90 0.000 0.000)" stroke="#fff" stroke-width="0.168"><tspan >/</tspan></text></g>
<g transform="matrix(0.65455 0 0 0.56000 27.200 301.200)"><text x="0.000" y="0.000" font-family='"Liberation Serif", serif' font-size="32.000" fill="#d43030" transform="rotate(-90 0.000 0.000)" stroke="#fff" stroke-width="0.248"><tspan >h</tspan></text></g>
<g transform="matrix(0.64138 0 0 0.67500 26.310 292.875)"><text x="0.000" y="0.000" font-family='"Liberation Serif", serif' font-size="32.000" fill="#d43030" transform="rotate(-90 0.000 0.000)" stroke="#fff" stroke-width="0.228"><tspan >)</tspan></text></g>
<g transform="matrix(0.68571 0 0 0.60909 18.200 783.700)"><text x="0.000" y="0.000" font-family='"Liberation Serif", serif' font-size="32.000" fill="#d43030" transform="rotate(-90 0.000 0.000)" stroke="#fff" stroke-width="0.232"><tspan >AHC</tspan></text></g>
<g transform="matrix(0.68889 0 0 0.60000 17.667 739.300)"><text x="0.000" y="0.000" font-family='"Liberation Serif", serif' font-size="32.000" fill="#d43030" transform="rotate(-90 0.000 0.000)" stroke="#fff" stroke-width="0.233"><tspan >(</tspan></text></g>
<g transform="matrix(0.68000 0 0 0.60000 18.200 733.900)"><text x="0.000" y="0.000" font-family='"Liberation Serif", serif' font-size="32.000" fill="#d43030" transform="rotate(-90 0.000 0.000)" stroke="#fff" stroke-width="0.235"><tspan >e</tspan></text></g>
<g transform="matrix(0.42857 0 0 0.42308 11.600 725.923)"><text x="0.000" y="0.000" font-family='"Liberation Serif", serif' font-size="32.000" fill="#d43030" transform="rotate(-90 0.000 0.000)" stroke="#fff" stroke-width="0.352"><tspan >2</tspan></text></g>
<g transform="matrix(0.85714 0 0 0.93333 21.800 719.400)"><text x="0.000" y="0.000" font-family='"Liberation Serif", serif' font-size="32.000" fill="#d43030" transform="rotate(-90 0.000 0.000)" stroke="#fff" stroke-width="0.168"><tspan >/</tspan></text></g>
<g transform="matrix(0.65455 0 0 0.56000 18.200 709.800)"><text x="0.000" y="0.000" font-family='"Liberation Serif", serif' font-size="32.000" fill="#d43030" transform="rotate(-90 0.000 0.000)" stroke="#fff" stroke-width="0.248"><tspan >h</tspan></text></g>
<g transform="matrix(0.64138 0 0 0.67500 17.310 701.475)"><text x="0.000" y="0.000" font-family='"Liberation Serif", serif' font-size="32.000" fill="#d43030" transform="rotate(-90 0.000 0.000)" stroke="#fff" stroke-width="0.228"><tspan >)</tspan></text></g>
<g transform="matrix(0.56264 0 0 0.57500 147.237 399.975)"><text x="0.000" y="0.000" font-family='"Liberation Serif", serif' font-size="32.000" fill="#000000" stroke="#fff" stroke-width="0.264"><tspan >Energy</tspan></text></g>
<g transform="matrix(0.56250 0 0 0.65000 206.137 400.800)"><text x="0.000" y="0.000" font-family='"Liberation Serif", serif' font-size="32.000" fill="#000000" stroke="#fff" stroke-width="0.248"><tspan >(eV)</tspan></text></g>
<g transform="matrix(0.56139 0 0 0.60659 475.239 399.515)"><text x="0.000" y="0.000" font-family='"Liberation Serif", serif' font-size="32.000" fill="#000000" stroke="#fff" stroke-width="0.257"><tspan >Energy</tspan></text></g>
<g transform="matrix(0.56126 0 0 0.68571 534.008 400.386)"><text x="0.000" y="0.000" font-family='"Liberation Serif", serif' font-size="32.000" fill="#000000" stroke="#fff" stroke-width="0.242"><tspan >(eV)</tspan></text></g>
<g transform="matrix(0.57260 0 0 0.60975 139.027 809.789)"><text x="0.000" y="0.000" font-family='"Liberation Serif", serif' font-size="32.000" fill="#000000" stroke="#fff" stroke-width="0.254"><tspan >Energy</tspan></text></g>
<g transform="matrix(0.57246 0 0 0.68929 198.970 810.664)"><text x="0.000" y="0.000" font-family='"Liberation Serif", serif' font-size="32.000" fill="#000000" stroke="#fff" stroke-width="0.239"><tspan >(eV)</tspan></text></g>
<g transform="matrix(0.57135 0 0 0.60975 469.629 809.789)"><text x="0.000" y="0.000" font-family='"Liberation Serif", serif' font-size="32.000" fill="#000000" stroke="#fff" stroke-width="0.254"><tspan >Energy</tspan></text></g>
<g transform="matrix(0.57121 0 0 0.68929 529.441 810.664)"><text x="0.000" y="0.000" font-family='"Liberation Serif", serif' font-size="32.000" fill="#000000" stroke="#fff" stroke-width="0.239"><tspan >(eV)</tspan></text></g>
<g transform="matrix(0.47377 0 0 0.54286 270.526 196.700)"><text x="0.000" y="0.000" font-family='"Liberation Serif", serif' font-size="32.000" fill="#000000" stroke="#fff" stroke-width="0.296"><tspan >DOS</tspan></text></g>
<g transform="matrix(0.48154 0 0 0.51905 270.218 213.000)"><text x="0.000" y="0.000" font-family='"Liberation Serif", serif' font-size="32.000" fill="#000000" stroke="#fff" stroke-width="0.300"><tspan >OHC</tspan></text></g>
<g transform="matrix(0.47869 0 0 0.51429 272.221 609.900)"><text x="0.000" y="0.000" font-family='"Liberation Serif", serif' font-size="32.000" fill="#000000" stroke="#fff" stroke-width="0.302"><tspan >DOS</tspan></text></g>
<g transform="matrix(0.49385 0 0 0.50000 272.206 626.800)"><text x="0.000" y="0.000" font-family='"Liberation Serif", serif' font-size="32.000" fill="#000000" stroke="#fff" stroke-width="0.302"><tspan >OHC</tspan></text></g>
<g transform="matrix(0.56111 0 0 0.61905 24.139 45.900)"><text x="0.000" y="0.000" font-family='"Liberation Serif", serif' font-size="32.000" fill="#000000" stroke="#fff" stroke-width="0.255"><tspan >0.08</tspan></text></g>
<g transform="matrix(0.54727 0 0 0.62857 24.153 154.400)"><text x="0.000" y="0.000" font-family='"Liberation Serif", serif' font-size="32.000" fill="#000000" stroke="#fff" stroke-width="0.256"><tspan >0.04</tspan></text></g>
<g transform="matrix(0.55263 0 0 0.63810 32.947 263.400)"><text x="0.000" y="0.000" font-family='"Liberation Serif", serif' font-size="32.000" fill="#000000" stroke="#fff" stroke-width="0.253"><tspan >0.0</tspan></text></g>
<g transform="matrix(0.52333 0 0 0.62381 327.177 45.000)"><text x="0.000" y="0.000" font-family='"Liberation Serif", serif' font-size="32.000" fill="#2a58cc" stroke="#fff" stroke-width="0.263"><tspan >25</tspan></text></g>
<g transform="matrix(0.52333 0 0 0.60000 327.177 88.200)"><text x="0.000" y="0.000" font-family='"Liberation Serif", serif' font-size="32.000" fill="#2a58cc" stroke="#fff" stroke-width="0.268"><tspan >20</tspan></text></g>
<g transform="matrix(0.57857 0 0 0.60476 325.264 174.700)"><text x="0.000" y="0.000" font-family='"Liberation Serif", serif' font-size="32.000" fill="#2a58cc" stroke="#fff" stroke-width="0.254"><tspan >10</tspan></text></g>
<g transform="matrix(0.56667 0 0 0.60000 326.433 262.000)"><text x="0.000" y="0.000" font-family='"Liberation Serif", serif' font-size="32.000" fill="#2a58cc" stroke="#fff" stroke-width="0.257"><tspan >00</tspan></text></g>
<g transform="matrix(0.63636 0 0 0.60952 99.991 275.400)"><text x="0.000" y="0.000" font-family='"Liberation Serif", serif' font-size="32.000" fill="#000000" stroke="#fff" stroke-width="0.241"><tspan >1</tspan></text></g>
<g transform="matrix(0.57857 0 0 0.60952 185.721 275.800)"><text x="0.000" y="0.000" font-family='"Liberation Serif", serif' font-size="32.000" fill="#000000" stroke="#fff" stroke-width="0.253"><tspan >0</tspan></text></g>
<g transform="matrix(0.60909 0 0 0.60000 272.773 275.600)"><text x="0.000" y="0.000" font-family='"Liberation Serif", serif' font-size="32.000" fill="#000000" stroke="#fff" stroke-width="0.248"><tspan >1</tspan></text></g>
<g transform="matrix(0.48571 0 0 0.52857 46.714 297.800)"><text x="0.000" y="0.000" font-family='"Liberation Serif", serif' font-size="32.000" fill="#d43030" stroke="#fff" stroke-width="0.296"><tspan >0</tspan></text></g>
<g transform="matrix(0.63636 0 0 0.55238 45.091 335.200)"><text x="0.000" y="0.000" font-family='"Liberation Serif", serif' font-size="32.000" fill="#d43030" stroke="#fff" stroke-width="0.253"><tspan >1</tspan></text></g>
<g transform="matrix(0.60769 0 0 0.55238 45.492 372.000)"><text x="0.000" y="0.000" font-family='"Liberation Serif", serif' font-size="32.000" fill="#d43030" stroke="#fff" stroke-width="0.259"><tspan >2</tspan></text></g>
<g transform="matrix(0.63636 0 0 0.60000 99.991 384.600)"><text x="0.000" y="0.000" font-family='"Liberation Serif", serif' font-size="32.000" fill="#000000" stroke="#fff" stroke-width="0.243"><tspan >1</tspan></text></g>
<g transform="matrix(0.57143 0 0 0.58095 186.029 384.600)"><text x="0.000" y="0.000" font-family='"Liberation Serif", serif' font-size="32.000" fill="#000000" stroke="#fff" stroke-width="0.260"><tspan >0</tspan></text></g>
<g transform="matrix(0.60909 0 0 0.59048 272.773 384.600)"><text x="0.000" y="0.000" font-family='"Liberation Serif", serif' font-size="32.000" fill="#000000" stroke="#fff" stroke-width="0.250"><tspan >1</tspan></text></g>
<g transform="matrix(0.60270 0 0 0.61429 358.197 87.600)"><text x="0.000" y="0.000" font-family='"Liberation Serif", serif' font-size="32.000" fill="#000000" stroke="#fff" stroke-width="0.247"><tspan >0.2</tspan></text></g>
<g transform="matrix(0.56486 0 0 0.61905 358.935 175.200)"><text x="0.000" y="0.000" font-family='"Liberation Serif", serif' font-size="32.000" fill="#000000" stroke="#fff" stroke-width="0.254"><tspan >0.1</tspan></text></g>
<g transform="matrix(0.56579 0 0 0.62857 358.234 260.100)"><text x="0.000" y="0.000" font-family='"Liberation Serif", serif' font-size="32.000" fill="#000000" stroke="#fff" stroke-width="0.252"><tspan >0.0</tspan></text></g>
<g transform="matrix(0.53571 0 0 0.58571 653.064 44.600)"><text x="0.000" y="0.000" font-family='"Liberation Serif", serif' font-size="32.000" fill="#2a58cc" stroke="#fff" stroke-width="0.268"><tspan >6</tspan></text></g>
<g transform="matrix(0.57692 0 0 0.58095 652.446 152.000)"><text x="0.000" y="0.000" font-family='"Liberation Serif", serif' font-size="32.000" fill="#2a58cc" stroke="#fff" stroke-width="0.259"><tspan >3</tspan></text></g>
<g transform="matrix(0.53571 0 0 0.60952 653.064 261.000)"><text x="0.000" y="0.000" font-family='"Liberation Serif", serif' font-size="32.000" fill="#2a58cc" stroke="#fff" stroke-width="0.262"><tspan >0</tspan></text></g>
<g transform="matrix(0.58000 0 0 0.60952 383.820 275.600)"><text x="0.000" y="0.000" font-family='"Liberation Serif", serif' font-size="32.000" fill="#000000" stroke="#fff" stroke-width="0.252"><tspan >4</tspan></text></g>
<g transform="matrix(0.60769 0 0 0.58571 448.892 275.400)"><text x="0.000" y="0.000" font-family='"Liberation Serif", serif' font-size="32.000" fill="#000000" stroke="#fff" stroke-width="0.251"><tspan >2</tspan></text></g>
<g transform="matrix(0.56429 0 0 0.60476 512.336 275.800)"><text x="0.000" y="0.000" font-family='"Liberation Serif", serif' font-size="32.000" fill="#000000" stroke="#fff" stroke-width="0.257"><tspan >0</tspan></text></g>
<g transform="matrix(0.65385 0 0 0.58571 577.146 275.400)"><text x="0.000" y="0.000" font-family='"Liberation Serif", serif' font-size="32.000" fill="#000000" stroke="#fff" stroke-width="0.242"><tspan >2</tspan></text></g>
<g transform="matrix(0.58000 0 0 0.59048 641.220 275.500)"><text x="0.000" y="0.000" font-family='"Liberation Serif", serif' font-size="32.000" fill="#000000" stroke="#fff" stroke-width="0.256"><tspan >4</tspan></text></g>
<g transform="matrix(0.63571 0 0 0.57143 371.564 298.100)"><text x="0.000" y="0.000" font-family='"Liberation Serif", serif' font-size="32.000" fill="#d43030" stroke="#fff" stroke-width="0.249"><tspan >0</tspan></text></g>
<g transform="matrix(0.63636 0 0 0.56190 372.191 332.900)"><text x="0.000" y="0.000" font-family='"Liberation Serif", serif' font-size="32.000" fill="#d43030" stroke="#fff" stroke-width="0.251"><tspan >1</tspan></text></g>
<g transform="matrix(0.60769 0 0 0.57143 372.592 370.600)"><text x="0.000" y="0.000" font-family='"Liberation Serif", serif' font-size="32.000" fill="#d43030" stroke="#fff" stroke-width="0.255"><tspan >2</tspan></text></g>
<g transform="matrix(0.58000 0 0 0.60000 383.820 386.000)"><text x="0.000" y="0.000" font-family='"Liberation Serif", serif' font-size="32.000" fill="#000000" stroke="#fff" stroke-width="0.254"><tspan >4</tspan></text></g>
<g transform="matrix(0.60769 0 0 0.58095 448.892 385.800)"><text x="0.000" y="0.000" font-family='"Liberation Serif", serif' font-size="32.000" fill="#000000" stroke="#fff" stroke-width="0.252"><tspan >2</tspan></text></g>
<g transform="matrix(0.60000 0 0 0.58095 512.000 385.800)"><text x="0.000" y="0.000" font-family='"Liberation Serif", serif' font-size="32.000" fill="#000000" stroke="#fff" stroke-width="0.254"><tspan >0</tspan></text></g>
<g transform="matrix(0.65385 0 0 0.58095 577.146 385.800)"><text x="0.000" y="0.000" font-family='"Liberation Serif", serif' font-size="32.000" fill="#000000" stroke="#fff" stroke-width="0.243"><tspan >2</tspan></text></g>
<g transform="matrix(0.58000 0 0 0.59048 641.220 385.800)"><text x="0.000" y="0.000" font-family='"Liberation Serif", serif' font-size="32.000" fill="#000000" stroke="#fff" stroke-width="0.256"><tspan >4</tspan></text></g>
<g transform="matrix(0.58378 0 0 0.65238 23.216 486.600)"><text x="0.000" y="0.000" font-family='"Liberation Serif", serif' font-size="32.000" fill="#000000" stroke="#fff" stroke-width="0.243"><tspan >0.2</tspan></text></g>
<g transform="matrix(0.57838 0 0 0.61905 23.522 575.000)"><text x="0.000" y="0.000" font-family='"Liberation Serif", serif' font-size="32.000" fill="#000000" stroke="#fff" stroke-width="0.251"><tspan >0.1</tspan></text></g>
<g transform="matrix(0.57632 0 0 0.64286 22.924 664.400)"><text x="0.000" y="0.000" font-family='"Liberation Serif", serif' font-size="32.000" fill="#000000" stroke="#fff" stroke-width="0.246"><tspan >0.0</tspan></text></g>
<g transform="matrix(0.54643 0 0 0.61429 321.061 447.500)"><text x="0.000" y="0.000" font-family='"Liberation Serif", serif' font-size="32.000" fill="#2a58cc" stroke="#fff" stroke-width="0.259"><tspan >16</tspan></text></g>
<g transform="matrix(0.62857 0 0 0.63333 320.871 556.500)"><text x="0.000" y="0.000" font-family='"Liberation Serif", serif' font-size="32.000" fill="#2a58cc" stroke="#fff" stroke-width="0.238"><tspan >8</tspan></text></g>
<g transform="matrix(0.58571 0 0 0.62857 320.914 663.800)"><text x="0.000" y="0.000" font-family='"Liberation Serif", serif' font-size="32.000" fill="#2a58cc" stroke="#fff" stroke-width="0.247"><tspan >0</tspan></text></g>
<g transform="matrix(0.58000 0 0 0.62381 45.820 683.100)"><text x="0.000" y="0.000" font-family='"Liberation Serif", serif' font-size="32.000" fill="#000000" stroke="#fff" stroke-width="0.249"><tspan >4</tspan></text></g>
<g transform="matrix(0.60769 0 0 0.59524 114.792 683.000)"><text x="0.000" y="0.000" font-family='"Liberation Serif", serif' font-size="32.000" fill="#000000" stroke="#fff" stroke-width="0.249"><tspan >2</tspan></text></g>
<g transform="matrix(0.62857 0 0 0.60952 179.171 683.100)"><text x="0.000" y="0.000" font-family='"Liberation Serif", serif' font-size="32.000" fill="#000000" stroke="#fff" stroke-width="0.242"><tspan >0</tspan></text></g>
<g transform="matrix(0.67692 0 0 0.59524 245.223 683.000)"><text x="0.000" y="0.000" font-family='"Liberation Serif", serif' font-size="32.000" fill="#000000" stroke="#fff" stroke-width="0.236"><tspan >2</tspan></text></g>
<g transform="matrix(0.60000 0 0 0.60476 309.700 683.000)"><text x="0.000" y="0.000" font-family='"Liberation Serif", serif' font-size="32.000" fill="#000000" stroke="#fff" stroke-width="0.249"><tspan >4</tspan></text></g>
<g transform="matrix(0.49286 0 0 0.58571 37.807 706.100)"><text x="0.000" y="0.000" font-family='"Liberation Serif", serif' font-size="32.000" fill="#d43030" stroke="#fff" stroke-width="0.279"><tspan >0</tspan></text></g>
<g transform="matrix(0.63636 0 0 0.54762 36.291 742.100)"><text x="0.000" y="0.000" font-family='"Liberation Serif", serif' font-size="32.000" fill="#d43030" stroke="#fff" stroke-width="0.254"><tspan >1</tspan></text></g>
<g transform="matrix(0.60769 0 0 0.58571 36.692 780.400)"><text x="0.000" y="0.000" font-family='"Liberation Serif", serif' font-size="32.000" fill="#d43030" stroke="#fff" stroke-width="0.251"><tspan >2</tspan></text></g>
<g transform="matrix(0.58000 0 0 0.59048 45.020 794.800)"><text x="0.000" y="0.000" font-family='"Liberation Serif", serif' font-size="32.000" fill="#000000" stroke="#fff" stroke-width="0.256"><tspan >4</tspan></text></g>
<g transform="matrix(0.60769 0 0 0.58095 113.792 794.800)"><text x="0.000" y="0.000" font-family='"Liberation Serif", serif' font-size="32.000" fill="#000000" stroke="#fff" stroke-width="0.252"><tspan >2</tspan></text></g>
<g transform="matrix(0.58571 0 0 0.58095 179.914 794.800)"><text x="0.000" y="0.000" font-family='"Liberation Serif", serif' font-size="32.000" fill="#000000" stroke="#fff" stroke-width="0.257"><tspan >0</tspan></text></g>
<g transform="matrix(0.67692 0 0 0.58095 246.123 794.800)"><text x="0.000" y="0.000" font-family='"Liberation Serif", serif' font-size="32.000" fill="#000000" stroke="#fff" stroke-width="0.239"><tspan >2</tspan></text></g>
<g transform="matrix(0.58000 0 0 0.59048 309.720 794.800)"><text x="0.000" y="0.000" font-family='"Liberation Serif", serif' font-size="32.000" fill="#000000" stroke="#fff" stroke-width="0.256"><tspan >4</tspan></text></g>
<g transform="matrix(0.59211 0 0 0.59524 350.208 449.800)"><text x="0.000" y="0.000" font-family='"Liberation Serif", serif' font-size="32.000" fill="#000000" stroke="#fff" stroke-width="0.253"><tspan >0.3</tspan></text></g>
<g transform="matrix(0.60811 0 0 0.61429 350.192 521.700)"><text x="0.000" y="0.000" font-family='"Liberation Serif", serif' font-size="32.000" fill="#000000" stroke="#fff" stroke-width="0.245"><tspan >0.2</tspan></text></g>
<g transform="matrix(0.58919 0 0 0.59524 350.911 595.600)"><text x="0.000" y="0.000" font-family='"Liberation Serif", serif' font-size="32.000" fill="#000000" stroke="#fff" stroke-width="0.253"><tspan >0.1</tspan></text></g>
<g transform="matrix(0.58947 0 0 0.63810 350.311 668.000)"><text x="0.000" y="0.000" font-family='"Liberation Serif", serif' font-size="32.000" fill="#000000" stroke="#fff" stroke-width="0.245"><tspan >0.0</tspan></text></g>
<g transform="matrix(0.57857 0 0 0.60000 647.064 448.800)"><text x="0.000" y="0.000" font-family='"Liberation Serif", serif' font-size="32.000" fill="#2a58cc" stroke="#fff" stroke-width="0.255"><tspan >16</tspan></text></g>
<g transform="matrix(0.58667 0 0 0.63333 648.213 558.000)"><text x="0.000" y="0.000" font-family='"Liberation Serif", serif' font-size="32.000" fill="#2a58cc" stroke="#fff" stroke-width="0.246"><tspan font-style="italic">8</tspan></text></g>
<g transform="matrix(0.55000 0 0 0.62857 648.750 667.600)"><text x="0.000" y="0.000" font-family='"Liberation Serif", serif' font-size="32.000" fill="#2a58cc" stroke="#fff" stroke-width="0.255"><tspan >0</tspan></text></g>
<g transform="matrix(0.58000 0 0 0.60476 375.420 682.900)"><text x="0.000" y="0.000" font-family='"Liberation Serif", serif' font-size="32.000" fill="#000000" stroke="#fff" stroke-width="0.253"><tspan >4</tspan></text></g>
<g transform="matrix(0.60769 0 0 0.59524 442.292 683.000)"><text x="0.000" y="0.000" font-family='"Liberation Serif", serif' font-size="32.000" fill="#000000" stroke="#fff" stroke-width="0.249"><tspan >2</tspan></text></g>
<g transform="matrix(0.62857 0 0 0.60952 506.971 683.100)"><text x="0.000" y="0.000" font-family='"Liberation Serif", serif' font-size="32.000" fill="#000000" stroke="#fff" stroke-width="0.242"><tspan >0</tspan></text></g>
<g transform="matrix(0.66923 0 0 0.59524 573.531 683.000)"><text x="0.000" y="0.000" font-family='"Liberation Serif", serif' font-size="32.000" fill="#000000" stroke="#fff" stroke-width="0.238"><tspan >2</tspan></text></g>
<g transform="matrix(0.61333 0 0 0.60476 638.687 683.000)"><text x="0.000" y="0.000" font-family='"Liberation Serif", serif' font-size="32.000" fill="#000000" stroke="#fff" stroke-width="0.246"><tspan >4</tspan></text></g>
<g transform="matrix(0.55000 0 0 0.58571 364.750 706.100)"><text x="0.000" y="0.000" font-family='"Liberation Serif", serif' font-size="32.000" fill="#d43030" stroke="#fff" stroke-width="0.264"><tspan >0</tspan></text></g>
<g transform="matrix(0.63636 0 0 0.55714 364.091 742.100)"><text x="0.000" y="0.000" font-family='"Liberation Serif", serif' font-size="32.000" fill="#d43030" stroke="#fff" stroke-width="0.252"><tspan >1</tspan></text></g>
<g transform="matrix(0.60769 0 0 0.58571 364.492 780.500)"><text x="0.000" y="0.000" font-family='"Liberation Serif", serif' font-size="32.000" fill="#d43030" stroke="#fff" stroke-width="0.251"><tspan >2</tspan></text></g>
<g transform="matrix(0.58000 0 0 0.57619 375.220 795.100)"><text x="0.000" y="0.000" font-family='"Liberation Serif", serif' font-size="32.000" fill="#000000" stroke="#fff" stroke-width="0.259"><tspan >4</tspan></text></g>
<g transform="matrix(0.60769 0 0 0.57143 442.192 795.000)"><text x="0.000" y="0.000" font-family='"Liberation Serif", serif' font-size="32.000" fill="#000000" stroke="#fff" stroke-width="0.255"><tspan >2</tspan></text></g>
<g transform="matrix(0.60000 0 0 0.57143 507.100 795.000)"><text x="0.000" y="0.000" font-family='"Liberation Serif", serif' font-size="32.000" fill="#000000" stroke="#fff" stroke-width="0.256"><tspan >0</tspan></text></g>
<g transform="matrix(0.67692 0 0 0.57143 573.923 795.000)"><text x="0.000" y="0.000" font-family='"Liberation Serif", serif' font-size="32.000" fill="#000000" stroke="#fff" stroke-width="0.241"><tspan >2</tspan></text></g>
<g transform="matrix(0.58667 0 0 0.57143 638.413 795.000)"><text x="0.000" y="0.000" font-family='"Liberation Serif", serif' font-size="32.000" fill="#000000" stroke="#fff" stroke-width="0.259"><tspan >4</tspan></text></g></svg>
</body></html>
